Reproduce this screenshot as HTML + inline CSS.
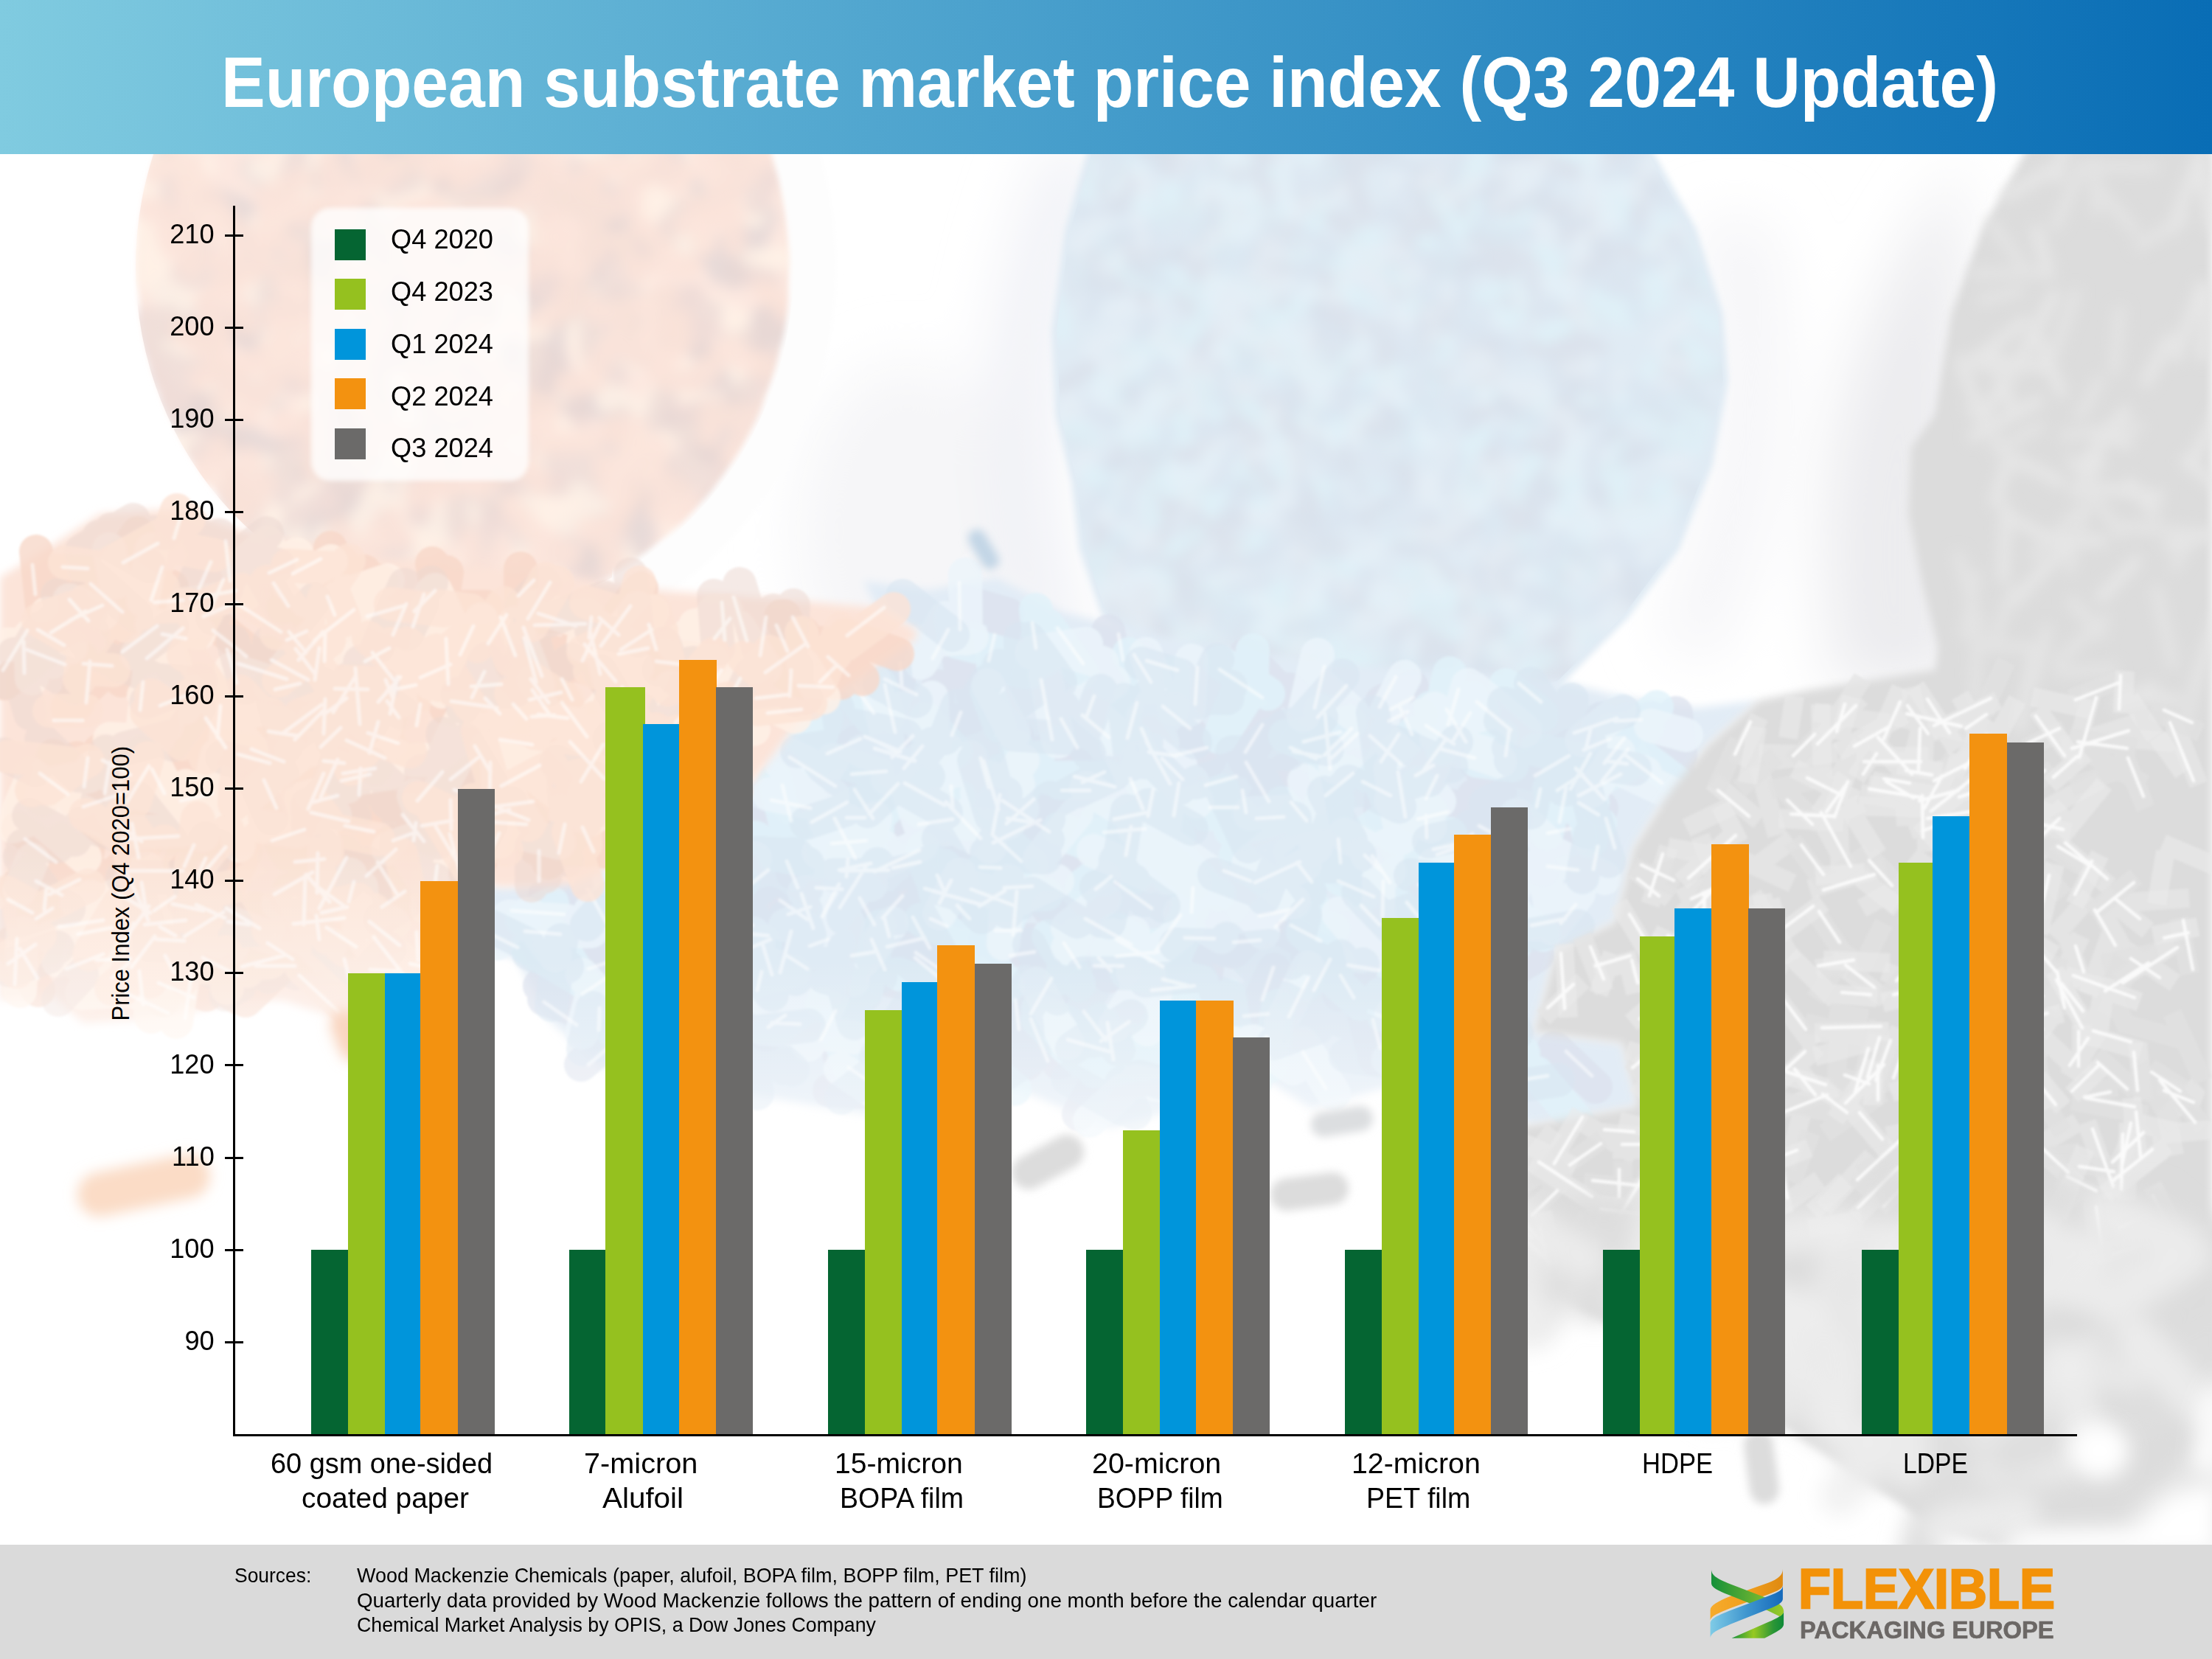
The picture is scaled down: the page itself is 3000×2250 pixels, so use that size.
<!DOCTYPE html>
<html lang="en"><head><meta charset="utf-8"><title>European substrate market price index (Q3 2024 Update)</title>
<style>
html,body{margin:0;padding:0;background:#fff}
body{width:3000px;height:2250px;overflow:hidden;position:relative;font-family:"Liberation Sans", sans-serif;}
#page{position:absolute;left:0;top:0;width:3000px;height:2250px;overflow:hidden;background:#fff}
.t{position:absolute;white-space:nowrap;display:block}
.b{position:absolute}
#hdr{position:absolute;left:0;top:0;width:3000px;height:208.5px;background:linear-gradient(90deg,#80cbe0 0%,#096db5 100%)}
#ftr{position:absolute;left:0;top:2095px;width:3000px;height:155px;background:#dadada}
</style></head><body><div id="page">

<svg width="3000" height="2250" viewBox="0 0 3000 2250" style="position:absolute;left:0;top:0">
<defs><filter id="b2" filterUnits="userSpaceOnUse" x="-100" y="0" width="3200" height="2250"><feGaussianBlur stdDeviation="1.6"/></filter><filter id="b4" filterUnits="userSpaceOnUse" x="-100" y="0" width="3200" height="2250"><feGaussianBlur stdDeviation="4"/></filter><filter id="b6" filterUnits="userSpaceOnUse" x="-100" y="0" width="3200" height="2250"><feGaussianBlur stdDeviation="6"/></filter><filter id="b9" filterUnits="userSpaceOnUse" x="-100" y="0" width="3200" height="2250"><feGaussianBlur stdDeviation="9"/></filter><filter id="b14" filterUnits="userSpaceOnUse" x="-100" y="0" width="3200" height="2250"><feGaussianBlur stdDeviation="14"/></filter><filter id="b40" filterUnits="userSpaceOnUse" x="-100" y="0" width="3200" height="2250"><feGaussianBlur stdDeviation="40"/></filter><clipPath id="cpRim"><path d="M830,200H1200V900H830Z"/></clipPath><clipPath id="cpOB"><ellipse cx="630" cy="362" rx="446" ry="471"/></clipPath><clipPath id="cpBB"><path d="M1483,200 L1451,313 L1433,449 L1438,562 L1460,652 L1470,742 L1501,833 L1600,900 L1750,950 L1900,962 L2030,950 L2113,923 L2203,833 L2271,742 L2316,629 L2337,516 L2330,426 L2294,313 L2231,200Z"/></clipPath><clipPath id="cpA"><rect x="0" y="200" width="3000" height="1900"/></clipPath><linearGradient id="fadeO" x1="0" y1="1150" x2="0" y2="1420" gradientUnits="userSpaceOnUse"><stop offset="0" stop-color="#fff" stop-opacity="0"/><stop offset="1" stop-color="#fff" stop-opacity=".55"/></linearGradient><linearGradient id="fadeB" x1="0" y1="1300" x2="0" y2="1530" gradientUnits="userSpaceOnUse"><stop offset="0" stop-color="#fff" stop-opacity="0"/><stop offset="1" stop-color="#fff" stop-opacity=".5"/></linearGradient></defs>
<rect width="3000" height="2250" fill="#fff"/>
<g clip-path="url(#cpA)">
<g filter="url(#b40)">
<ellipse cx="1230" cy="720" rx="150" ry="230" fill="#f6f6f8"/>
<path d="M1420,200 C1330,420 1300,650 1400,900 L1480,900 C1400,650 1420,420 1500,200Z" fill="#f0f1f6"/>
<path d="M2680,200 C2500,420 2440,650 2490,930 L2660,930 L2660,200Z" fill="#ececef"/>
<path d="M2250,860 C2330,700 2370,500 2300,300 L2400,300 C2440,520 2400,760 2320,900Z" fill="#f4f4f7"/>
</g>
<g filter="url(#b4)"><path d="M1483,200 L1451,313 L1433,449 L1438,562 L1460,652 L1470,742 L1501,833 L1600,900 L1750,950 L1900,962 L2030,950 L2113,923 L2203,833 L2271,742 L2316,629 L2337,516 L2330,426 L2294,313 L2231,200Z" fill="#e0ebf4" stroke="#e0ebf4" stroke-width="14" stroke-linejoin="round"/></g>
<g filter="url(#b9)" clip-path="url(#cpBB)">
<path d="M1731,303l-12,24M1813,370l-4,27M1512,626l23,16M1598,456l-36,8M1539,365l17,46M1476,350l30,17M1526,605l-6,51M1544,611l40,3M1758,566l-42,2M1877,688l-22,16M1903,298l52,2M1971,783l26,13M1938,427l-2,41M2223,236l22,15M1475,378l43,10M1658,281l5,46M1820,195l21,37M1522,228l-21,31M1679,571l30,18M1894,189l-37,27M2041,238l-22,24M1878,469l3,44M1693,574l4,38M1712,249l3,33M1640,869l1,26M1794,735l9,34M2212,184l-34,34M1798,360l2,44M1540,341l33,10M1733,471l-26,17M1776,674l7,33M1639,274l35,19M2016,761l5,40M1902,628l11,30M1501,340l-40,15M1679,704l-31,7M2056,729l15,33M1485,200l-11,35M1608,528l-21,27M1752,336l-45,9M1573,189l22,27M1477,499l-39,26M2102,869l16,29M1660,731l18,28M2108,638l-42,29M1563,520l26,9M1651,496l-16,41M1653,791l-24,47M1559,342l-41,4M1766,842l5,32M1526,479l-7,42M1520,745l-30,25M2125,859l-22,42M1620,383l-1,34M2256,319l-22,18M2028,466l-37,16M1791,474l38,6M2161,319l19,28M1712,901l-26,9M1932,421l33,26M1731,307l26,2M1515,352l25,9M2172,669l17,22M1440,588l36,12M1566,187l37,27M2262,363l44,25M1746,481l16,47M2046,671l5,34M2137,469l2,52M2120,547l-30,1M2162,296l-37,22M2012,356l33,7M1622,485l-5,42M1856,356l47,12M2036,318l18,39M2002,715l-34,7M1682,190l42,29M1995,648l-17,41M1620,684l6,46M2030,847l7,27M2202,339l26,3M1927,238l4,50M1832,184l-27,45M2052,873l-26,7M1991,872l-27,19M1700,392l45,24M2164,748l-34,2M2034,544l26,20M2128,543l46,13M1980,358l-32,8M1649,220l24,18M1765,712l2,49M2237,681l-43,11M1825,298l8,31M1529,532l2,29M2186,586l23,20M1942,829l22,46M1882,570l-4,40M2090,269l-41,18M1685,531l-12,45M1574,625l-21,21M2277,472l12,47M1832,502l-38,0M1988,811l28,3M1824,230l13,35M1553,830l27,33M1758,579l-13,41M1790,455l-10,33M1808,232l-6,28M2037,208l45,0M2252,498l25,8M1939,507l27,11M2291,554l4,37M1743,318l19,21M1637,307l-8,29M1726,655l-39,5M1768,739l49,3M1997,356l-26,11M2144,764l37,26M2089,552l-36,0M1617,281l-44,12M1984,727l-44,4M2172,354l-44,12M1719,543l12,27M1865,572l30,16M2205,782l8,32M1770,273l42,27M2073,353l5,40M2104,867l-10,48M2158,282l-0,39M1909,925l32,22M2286,544l27,11M1572,746l22,41M1941,709l-42,29M1849,565l48,5M1749,358l-39,14M1759,622l-8,28M1512,331l9,40M1827,620l17,24M2070,188l28,32M1999,891l27,21M2030,493l-18,29M2353,499l-49,9M1557,202l32,25M1559,653l16,50M1703,879l43,15M1583,701l-11,36M1613,856l-34,1M2143,856l-41,29M2039,254l-10,24M1834,242l17,50M1938,234l39,29M2120,469l-3,39M2120,281l21,18M1537,253l-29,29M1595,341l41,26M1934,306l-34,29M1586,806l-36,2M1715,301l26,34M1511,820l47,19M1708,451l-28,28M1600,396l24,34M1960,414l-7,27M1740,550l18,30M2127,422l40,9M2094,277l32,18M1773,574l30,40M2017,349l34,32M1628,884l-25,37M1886,562l-39,32M1632,664l-42,22M2121,632l-20,38M1947,842l-12,50M1786,419l36,18M1758,826l-12,31M1831,803l25,25M1766,686l-14,33M2245,555l22,48M1689,588l13,51M2041,401l36,20M2134,455l36,17M1563,752l29,17M1762,881l-3,33M1741,902l22,24M2234,250l-15,46M2257,314l38,24M1637,715l-26,6M2041,748l-0,50M2010,842l18,47M1717,449l-11,49M1643,535l-28,25M1609,788l38,30M1779,904l12,42M2132,915l-44,11M1693,224l30,18M2165,554l-24,15M1905,374l12,33M1928,752l35,30M1490,379l-31,7M1879,561l-46,6M1583,804l34,19M1885,904l18,46M2221,612l-33,21M2079,685l-13,35M1635,722l-30,32M1989,244l-3,44M2037,641l-19,28M2081,604l27,6M1716,335l16,44M2216,796l-17,28M2019,331l25,12M1782,680l-7,31M1779,553l-40,8M1491,718l3,32M2022,810l-41,13M1696,431l22,16M2102,214l31,19M1671,903l8,26M1482,765l25,15M1930,833l-36,25M2032,511l-32,4M1880,444l-52,5M1533,359l25,20M2002,320l37,8M1684,740l-26,1M1490,256l31,22M1722,893l22,24M1720,560l42,28M2110,821l8,32M1995,808l3,37M2114,564l-2,34M2046,551l15,23M1928,780l-22,26M1532,531l-14,30M1945,237l-14,22M1654,451l-25,20M2123,760l-11,49M1811,418l33,31M2080,471l28,6M1958,257l-13,46M1641,608l-42,10M2023,612l5,41M1899,916l1,46M1648,352l-11,25M1665,323l-48,20M1877,361l16,32M2035,544l-35,20M2277,661l38,20M2151,520l26,30" stroke="#d9dde8" stroke-opacity="0.6" stroke-width="24" stroke-linecap="round" fill="none"/><path d="M1548,270l27,39M1847,887l14,29M1576,363l29,26M1791,481l2,36M2057,385l12,27M1907,779l16,27M2287,467l24,20M2096,542l-19,20M1562,285l45,23M1984,627l4,51M1904,885l10,48M2263,693l-33,22M1895,597l37,2M2260,300l-27,34M1817,570l-48,2M1622,862l32,9M1659,208l31,9M2011,213l-31,40M1689,333l-42,9M1466,583l-39,3M2301,424l25,20M1581,451l32,9M1633,783l46,13M1777,230l34,2M2125,731l1,33M2258,659l-32,35M1925,817l44,2M2199,605l-17,39M1819,388l41,31M2186,410l43,7M2007,298l-35,15M1554,560l-19,45M1436,403l6,51M2156,746l-0,31M1783,545l-22,16M1646,519l-52,2M2090,340l23,22M1631,518l19,46M1753,234l-26,0M1827,857l-35,0M1804,504l-37,7M1503,655l15,36M1892,810l-31,3M1522,721l-28,41M1980,656l31,22M1549,461l46,24M1862,517l-17,45M1514,523l-1,26M1710,803l-35,27M1969,461l-28,25M1973,337l-15,36M1613,317l-27,8M1598,880l-27,15M2125,442l-32,13M1847,603l26,1M1930,329l28,3M2305,577l-7,29M2241,558l18,46M1600,520l-31,27M1717,727l-26,14M1832,336l-12,26M2069,563l-15,35M2079,625l-22,44M2237,363l14,43M1675,346l-32,40M1947,268l21,30M1864,322l-27,6M2136,682l-29,24M1660,473l26,26M1941,839l32,21M2057,864l-38,30M1958,562l-43,13M1784,568l26,30M1627,276l3,33M1857,761l-34,9M2006,817l33,8M2060,300l-28,21M1717,298l-50,18M1750,241l-8,47M1851,639l25,17M2168,403l-9,34M1590,831l13,29M1663,279l2,30M2265,549l-46,13M2298,363l-48,10M1644,227l-25,32M1558,667l7,39M1810,880l32,26M2083,771l25,15M1644,820l28,3M1676,819l-16,35M1522,500l38,17M1803,904l-26,22M1664,505l-14,32M1493,516l-0,26M1525,645l-37,8M2199,642l-9,42M2327,498l-29,7M1708,429l33,37M2146,827l0,38M1915,793l7,35M1747,828l-45,25M2017,590l-26,17M1612,562l-5,32M2025,706l-7,28M1956,908l8,42M1929,780l-7,38M1586,455l-23,27M1681,547l39,29M1937,394l-27,24M1698,492l29,8M2207,533l-17,39M1793,640l10,45M1764,212l24,36M1831,765l-42,0M1875,701l35,26M1649,229l16,33M2078,285l-25,33M1737,797l-7,46M2176,273l22,28M1692,263l29,43M2176,413l36,24M1889,504l18,33M1935,500l17,40M1715,456l-24,9M1511,208l45,16M1656,381l-39,16M1780,399l-40,30M2067,416l-34,31M2056,859l-30,25M2101,892l-30,17M2198,679l37,26M1745,455l21,39M2001,278l-4,31M1683,642l-34,37M1641,888l-34,11M2031,427l-31,1M1884,893l-39,34M2169,398l20,33M1651,791l-15,22M1484,761l13,28M1858,550l-37,27M1644,623l32,0M2199,247l-20,45M1757,468l-12,49M1537,772l32,1M2194,294l8,26M1459,352l6,30M1474,640l43,27M1892,698l-17,29M1841,349l26,8M2051,389l-42,13M2064,733l18,27M1631,542l-35,31M1440,584l41,13M1786,831l44,11M1691,393l30,10M1864,600l36,14M1783,348l29,12M2305,559l-33,25M2171,243l14,24M1544,577l41,24M2241,494l-4,32M1733,433l-44,18M1798,201l-25,13M1527,470l22,33M2076,768l34,4M1609,647l-43,2M1978,927l-27,23M1782,558l24,43M1927,574l-25,43M2158,710l-26,13M2117,802l-22,44M2133,639l-1,42M1626,663l17,30M1590,663l28,10M2149,541l27,9M1735,602l6,46M1729,862l47,15M2139,614l-31,38M2292,681l-32,8M2116,202l28,7M1897,526l12,40M2294,581l-33,28M2106,379l18,19M2024,650l-22,40M1581,261l21,30M1779,305l-24,43M1701,479l-23,21M1930,556l11,37M1886,370l42,25M1520,537l5,51M1785,833l-30,32M1930,769l35,33M1531,373l48,19M1580,627l5,36M1625,251l-39,13M2156,185l3,44M2294,333l15,50M1729,799l-25,36M1795,274l-13,31M2181,255l21,21M1650,798l-23,16M1623,724l-38,27M1585,636l40,14M1641,401l-19,40M1512,223l-1,29M1974,527l46,10M2196,685l19,35M1592,597l-26,15M1793,799l-21,28M1699,654l11,31M1766,830l-44,23M2288,535l6,46M1891,508l-41,16M1840,469l-31,40M2064,305l-52,7M1479,217l-1,50M1582,779l-4,31M1497,330l21,33M2273,546l34,24M1779,835l-33,25M1742,900l-6,36" stroke="#e0f3fa" stroke-opacity="0.6" stroke-width="24" stroke-linecap="round" fill="none"/><path d="M1943,650l0,40M2071,366l-9,39M2141,629l-31,13M1968,617l7,48M1753,649l1,31M1665,186l9,34M1486,338l16,40M1846,427l41,20M1866,711l-2,31M1737,221l33,3M1595,639l22,42M2093,551l40,25M1456,339l-0,46M1643,508l46,20M1731,925l-10,29M1840,580l4,51M1610,523l9,35M1791,508l12,25M1670,274l12,49M1800,588l-2,39M1847,433l-8,50M2195,721l-15,33M2212,697l20,25M1463,331l17,19M1945,384l-34,4M1977,685l29,7M1509,257l-23,23M1551,798l-1,50M2262,348l46,2M1790,499l-42,0M1657,387l-1,31M1575,503l20,25M1676,751l0,41M1964,208l-32,40M1921,523l-21,19M1844,360l37,36M1702,813l24,21M1932,755l17,43M2159,526l38,6M2171,288l0,26M2184,771l-11,32M2102,385l26,5M2129,411l21,25M1675,882l22,15M1532,639l-12,29M2166,805l10,34M2007,483l35,40M1477,618l-19,18M1540,635l-7,42M2008,422l26,25M2150,501l34,7M1500,456l-21,21M1618,492l-14,30M1680,597l-41,20M1978,912l24,32M2018,927l-12,42M1746,267l14,28M2059,540l29,6M1774,400l43,2M1481,684l45,28M1630,210l23,40M2081,384l-6,37M2044,756l41,9M2140,677l21,28M1435,378l28,35M1932,359l-25,12M1861,795l33,21M1879,939l-5,28M1975,711l-9,25M1902,840l6,40M1745,672l-23,32M1960,447l38,35M1546,491l-47,2M1925,693l-46,19M1789,192l9,36M1837,610l39,34M2051,820l-29,22M1882,802l-28,21M1727,556l-10,26M1564,417l10,26M1895,605l-23,11M1868,606l-24,42M2154,617l-32,9M2017,787l17,29M1782,813l-32,25M1995,496l17,44M2136,620l16,21M2207,751l29,1M1665,633l-47,16M1654,877l1,49M1987,789l37,20M1499,292l-37,36M1976,518l-18,34M2259,492l27,2M1707,371l33,13M2024,794l-40,9M1557,772l-37,3M1532,416l-25,9M1849,797l-33,6M1523,501l-21,20M1669,627l-26,1M1561,730l-41,27M2145,835l-12,49M1657,253l-11,28M2211,734l-36,19M2152,841l39,7M2242,211l-14,29M1920,527l-33,5M1721,322l51,10M1971,391l-31,34M1687,780l24,13M1748,450l-22,36M1772,521l6,45M1652,865l24,32M1883,510l-20,49M2042,762l34,10M1661,484l-20,24M1566,458l43,29M1778,454l24,43M1775,241l45,18M1749,307l-17,22M1703,697l38,14M2273,312l19,43M2054,634l-28,6M1704,265l-36,6M1899,340l-48,7M1601,314l-25,20M1647,365l-2,38M1491,555l-39,2M1526,557l6,30M2038,673l-42,9M1588,812l19,30M1509,215l6,30M2241,310l22,30M2179,228l-22,36M1641,750l-17,24M1638,823l-14,27M1539,787l31,6M2000,838l-10,50M2172,272l18,42M2091,220l-9,27M2182,281l-43,10M2243,699l-36,20M1858,372l-39,5M1762,468l41,1M2087,297l10,25M1745,606l8,26M1546,732l29,29M1517,340l-40,10M1666,395l30,2M1627,212l37,6M1997,246l-41,28M2285,628l-27,1M2017,637l23,39M1940,458l-3,33M1449,541l-22,41M2278,666l25,21M2177,312l-28,8M1534,452l-44,11M1962,721l-18,20M1926,655l-8,52M1641,245l-15,21M1493,215l-1,37M1654,445l38,5M1954,723l-49,3M1810,609l-21,31M1770,247l-33,2M1508,784l-25,44M2225,691l-33,9M2174,816l27,11M1781,460l-19,35M1725,610l-31,8M1753,727l22,29M1737,344l-30,2M1895,245l16,41M1932,575l7,26M1652,469l8,39M2004,729l46,22M1615,886l-5,26M1548,299l8,46M1750,906l-13,24M1929,213l36,37M2020,757l44,20M2193,792l-10,36M1804,782l-35,27M2161,503l42,12M2030,871l8,33M2064,224l-26,16M2094,697l42,19M2043,240l-14,35M2153,690l19,48M1642,783l48,6M2157,496l-45,9M2210,690l-9,35M1734,726l47,11M1646,322l-27,18M2161,755l-23,20M1463,355l49,2M1941,660l-7,33M1761,858l1,28M2146,330l-11,49M2107,839l-25,13M1668,419l23,31M2165,226l-12,31M2063,378l20,28M2147,836l-46,1M2163,193l-4,34M2286,434l-35,31M2130,597l45,16M1603,514l-25,37M1810,746l49,15M2177,249l45,13M1724,398l-50,11M1740,739l43,20M1652,200l34,11M2243,521l30,6M1489,531l17,26M1919,357l0,42M1585,807l-45,8M1838,558l-4,44M2076,230l-17,26M1760,720l14,36M2023,734l-31,3M1613,189l-5,45M1900,425l10,37M1982,712l32,35M2238,337l24,36M1547,230l4,34M1777,578l27,38M1832,343l37,14M1857,844l-36,7M1802,270l-27,3M2260,687l-4,44M1520,804l16,28M1912,797l-30,43M1741,836l-27,18M1740,451l-40,22M2064,521l38,11M1527,791l-9,25M1601,869l-7,46M2166,507l-10,31M1570,526l-22,48M1715,296l-50,15" stroke="#e8f0f7" stroke-opacity="0.6" stroke-width="24" stroke-linecap="round" fill="none"/><path d="M1763,231l-1,26M2296,666l-7,26M1478,354l-5,29M2108,418l-29,2M1840,701l44,8M1696,482l-13,22M1572,494l19,22M2212,395l9,34M1906,658l-14,23M1960,553l36,14M2174,810l-22,23M1910,610l-37,35M2175,504l1,48M2209,524l43,8M2229,310l-44,16M1518,208l-22,47M2211,367l-23,22M2028,713l-11,27M1497,385l-23,38M2121,523l46,4M1907,743l45,7M1562,308l40,31M1919,524l23,40M2107,495l11,38M1563,507l-35,32M1538,650l-17,47M1824,703l-29,5M1737,739l-46,25M1911,520l24,39M1450,352l4,52M1855,777l-12,38M1501,205l1,39M1828,221l-35,36M1808,800l14,48M2119,296l29,5M1735,316l23,14M2208,228l-33,9M1815,532l42,3M2075,804l43,30M2235,528l36,37M2084,757l26,21M1977,621l-12,38M1636,884l40,6M1566,333l-13,37M1858,592l14,35M1801,841l-51,13M1937,696l-43,17M1964,544l28,36M1808,675l13,31M2211,552l49,2M1648,761l32,1M1655,501l6,42M1907,257l-9,39M1913,676l-34,20M2100,652l-14,29M1924,391l22,20M1907,564l-25,8M2015,450l-32,15M1829,612l-29,17M1787,602l12,39M1903,585l-40,24M1951,885l4,25M1978,942l-14,26M2103,243l-18,41M2007,437l-45,7M1949,929l26,25M1697,834l-36,25M1670,657l30,9M1675,606l-22,47M1949,217l-31,8M1669,825l15,26M1938,349l45,9M1888,448l27,33M1945,473l-32,11M1845,425l23,22M1918,930l-27,43M2193,577l-31,34M1684,659l-18,41M2238,189l-31,28M1921,939l-2,40M2029,594l34,11M2007,898l27,14M1917,277l-42,14M1743,529l9,25M1932,477l4,35M1992,534l-40,1M1646,283l-21,26M1944,353l0,40M2078,750l-37,22M2020,288l-21,32M2070,316l-48,3M2033,250l-18,19M1511,729l24,35M2179,390l28,5M1540,364l39,18M1949,537l-5,39M1928,902l14,29M2001,911l-2,38M1726,726l52,4M1606,807l-19,31M1634,810l-23,26M1588,349l-41,15M1948,929l20,42M2195,799l41,11M2149,561l43,4M1922,452l-23,30M2030,455l27,23M2068,368l15,31M2250,353l-33,13M1553,755l29,9M1515,280l-52,7M1787,417l13,50M1670,580l-44,2M1843,618l4,43M1910,650l-32,1M1684,832l-31,15M2150,369l41,25M1882,683l-15,37M1716,788l-44,11M1550,624l-44,9M1825,554l-35,13M1806,214l-22,34M2168,331l24,43M1616,222l-4,35M2157,625l7,51M1596,304l29,19M1745,700l24,7M1532,318l-46,25M2007,716l-29,19M1955,318l28,43M2028,915l-12,46M1648,827l23,20M1853,204l45,16M1718,306l30,18M1696,338l-38,10M1676,856l3,42M1790,703l14,31M1691,350l-36,11M2002,779l16,25M2028,831l8,26M1974,206l-5,38M1501,663l-27,32M1478,555l35,15M2268,328l31,37M2113,739l44,24M1536,197l32,26M1852,629l-43,11M1804,699l-20,25M2037,548l45,22M1503,381l-32,1M1641,883l20,15M1923,348l33,22M2170,743l44,4M1755,311l45,25M1803,453l28,6M1586,586l-18,36M1650,766l-42,16M2088,668l-2,50M2251,772l-29,14M1641,208l5,28M1877,555l33,26M2035,684l-15,21M2240,254l20,17M2064,207l-31,5M2009,357l-27,15M1980,376l6,40M1564,434l-21,21M1902,852l-15,40M1964,899l-8,34M1822,612l49,15M1866,911l-11,32M1806,339l-36,28M1735,744l-39,20M2102,802l30,31M2247,606l-45,13M1767,654l0,27M2011,419l3,36M1898,894l-5,29M2122,728l-20,26M2276,533l26,7M1817,748l-32,0M1742,514l24,35M1826,825l-31,28M1793,452l8,34M2194,734l19,38" stroke="#d8e2ee" stroke-opacity="0.5" stroke-width="24" stroke-linecap="round" fill="none"/>
</g>
<g filter="url(#b6)"><path d="M1171,788 L1260,800 L1352,783 L1440,830 L1600,870 L1800,900 L2113,923 L2200,945 L2300,960 L2385,950 L2316,1010 L2260,1080 L2215,1150 L2190,1250 L2110,1290 L2080,1400 L2200,1415 L2220,1500 L2080,1525 L1904,1468 L1778,1504 L1723,1468 L1506,1531 L1380,1477 L1181,1513 L1027,1486 L900,1470 L814,1447 L746,1384 L700,1300 L620,1280 L610,1185 L678,1203 L772,1200 L900,1150 L1021,1060 L1085,976 L1150,930 L1241,868 L1244,855 L1189,824Z" fill="#e2ecf6"/></g>
<g filter="url(#b2)">
<path d="M868,1297l53,4M957,1093l84,34M1199,1328l68,13M1549,1443l65,3M1795,1148l-75,19M1318,972l-78,24M1451,1398l64,9M738,1355l54,18M786,1326l69,34M1067,1139l8,45M1360,1418l-23,80M779,1368l54,22M1093,1341l-43,42M900,1247l16,74M1741,1045l-30,47M1838,1261l-22,88M1906,954l18,41M1782,964l52,6M983,1190l-12,54M2204,1000l-71,30M1406,1369l30,73M1926,971l-46,24M943,1286l37,74M1254,1195l50,41M1411,1283l-52,8M1077,1377l-38,27M1460,1037l-62,49M851,1285l-61,20M1175,1208l25,44M1733,1228l-60,63M1876,1031l-4,71M1162,1203l-29,37M1319,942l61,58M1043,1225l54,38M1454,1075l-33,75M1646,1020l-60,14M1422,1108l-43,41M1206,1232l12,45M1387,1372l-53,73M1138,1431l80,15M827,1357l-1,51M2108,1421l56,53M2001,1118l-43,28M745,1275l54,14M1689,888l47,49M1712,1049l45,16M1999,1079l-8,69M849,1392l-61,52M1911,994l-35,53M780,1282l-48,55M1490,1462l-27,49M1163,1005l59,24M2273,967l6,59M1719,1389l-45,52M1773,1298l79,14M1652,1356l53,23M2021,1148l-22,62M1259,1262l-64,16M2065,1296l-45,10M1825,1258l84,26M842,1303l-68,46M919,1145l-30,68M1436,1419l74,21M1766,1201l-48,38M938,1281l-79,23M1258,997l-47,49M1491,1282l33,34M1728,1422l-72,10M1979,1006l55,69M1272,1091l55,58M1969,1093l-53,13M1435,1008l-66,39M1219,925l-21,68M873,1320l-51,74M2024,1418l-14,72M1422,1232l35,44M1277,1341l-39,61M1419,1386l-15,44M734,1339l69,48M879,1413l-27,36M945,1276l-0,92M1432,1180l65,11M1460,1278l-56,57M2141,1134l-49,10M2172,975l-14,56M1296,1167l17,66M1530,1060l-47,27M835,1344l-18,64M1950,1167l22,44M1418,1118l-72,35M1583,1376l44,19M1503,856l9,49M1123,1343l-79,7M2206,977l-53,67M1476,876l28,50M1304,1114l-69,11M862,1326l-47,36M1140,1067l41,63M1247,1289l35,73M1915,931l-41,21M739,1214l49,69M966,1268l52,45M1688,1175l62,15M1336,1275l64,0M1144,1154l-4,45M1257,1294l60,43M1813,1180l61,26M1765,1205l-50,50M1994,1022l84,28M1735,1259l61,32M1568,1152l52,45M1820,1319l54,9M1238,1213l-42,46M1156,1010l52,25M1847,1159l35,52M931,1187l-59,70M1136,1279l-44,17M1406,1021l-59,68M1125,1479l61,3M1916,1298l-46,45M1840,1038l-52,43M1940,1292l29,36M918,1244l59,42M1646,1252l-13,87M1308,816l59,17M1452,1045l69,17M757,1214l68,51M2085,1295l-47,30M2014,1098l75,41M2239,974l41,81M1488,1392l-76,15M1543,1029l64,8M809,1269l80,35M901,1326l-42,57M2034,1372l3,75M1187,999l42,21M1055,1298l44,29M892,1429l86,18M1064,1287l2,65M1929,1385l12,64M1940,1139l49,77M1722,978l-33,54M1133,1317l-69,45M1510,1264l-6,60M903,1438l57,8M1817,1347l53,12M2064,1144l29,37M1052,1263l-53,22M1548,890l10,57M1849,1373l16,63M1345,1383l31,46M1362,852l-13,57M802,1198l34,61M1341,1369l51,74M1831,981l-42,40M1069,1316l22,50M962,1238l67,12M1749,935l63,58M1429,1347l-33,36M1593,963l47,68M2132,1010l-64,38M1178,1462l82,1M2125,1046l47,50M1564,1019l42,54M1291,838l13,77M1885,1279l59,25M1273,931l-7,89M815,1249l49,13M895,1269l-54,37M1728,1315l-38,81" stroke="#dce2ee" stroke-opacity="0.75" stroke-width="46" stroke-linecap="round" fill="none"/><path d="M1922,1063l-31,72M1250,1072l-84,15M1796,1318l49,44M900,1263l-11,63M1281,1174l25,38M1592,912l-1,50M1541,1043l24,57M1185,1161l-55,11M1347,904l49,7M1990,993l46,6M1583,1280l-82,9M2143,1083l14,57M1807,1128l5,53M1699,882l-2,59M1059,981l73,54M1877,1110l-52,41M881,1329l12,51M1115,1361l64,30M1738,1089l31,37M1460,1407l89,5M1940,1099l1,45M1421,849l46,63M1574,1093l-85,17M1301,1082l-54,19M2019,1213l74,55M1407,1383l58,55M916,1179l41,25M1945,1268l-33,43M1979,1232l78,47M1831,979l-81,21M1306,1116l60,6M1379,1012l9,61M1036,1276l-29,62M1569,1316l61,16M1916,1285l-26,41M1897,1226l42,50M1284,1336l30,45M969,1136l56,0M1133,1031l58,18M880,1316l75,29M2012,1173l5,60M1558,1442l-74,11M1592,1153l44,50M1454,1135l62,30M1913,1304l-37,73M987,1290l12,71M1493,1384l10,59M1532,946l-15,55M2200,1005l73,55M1997,947l-41,68M1228,1428l29,39M1572,1066l-9,48M1365,1137l-43,55M2205,998l-53,64M1997,1390l9,55M2114,1047l-16,83M1635,1104l48,0M2084,1017l56,11M1460,1266l-22,61M1648,1439l54,30M1508,1170l-40,31M2160,1089l-61,8M1234,1064l-54,56M1050,1159l58,11M1528,1319l89,21M1051,1057l16,68M958,1169l48,28M1422,1270l41,64M1966,913l-14,64M1613,1197l-3,46M1116,1146l-49,3M2205,1039l-78,39M1436,1124l53,19M1405,827l9,68M1281,1059l3,45M1419,1213l-75,3M715,1286l78,47M1757,1152l65,42M1548,1434l60,13M1698,934l-42,65M1917,1171l-70,43M1617,1234l-52,76M1999,1415l67,13M1256,975l39,44M1943,1239l26,63M1160,1088l-65,36M1219,1321l60,22M1437,1408l50,33M1136,1401l21,60M1667,1350l12,69M1655,898l65,43M1515,1261l73,43M1531,887l29,46M1967,1131l-11,64M1904,1252l21,65M1964,1354l-2,88M1767,1264l50,44M1300,1422l-48,34M823,1215l88,22M2003,1032l48,6M1658,1073l-71,26M1483,1062l-46,0M749,1225l-40,22M2149,1039l-48,30M752,1268l28,46M1190,1125l-84,14M1917,994l-62,58M1120,972l-15,60M1717,1435l-47,18M1408,1368l75,38M1601,1321l43,54M1342,1120l58,53M1363,1199l-43,26M1539,1004l42,75M1682,931l-28,69M2084,1455l57,68M883,1244l35,29M1808,1260l-37,74M1299,871l73,18M1322,1434l54,43M1330,1289l38,48M1194,1256l-19,86M1907,1317l79,27M2042,929l48,41M1556,1123l-28,38M1260,1006l-10,89M1585,1190l67,23M1950,1294l29,66M1940,960l71,3M1749,1155l31,72M1257,1178l23,52M1078,1317l-59,16M1346,1356l-1,65M1814,1087l-5,62M2247,959l-66,58M1589,1344l-30,81M1676,1160l66,53M1252,1150l22,79M1827,1047l-38,47M1503,1054l-85,1M840,1351l-9,47M1194,929l11,43M1038,1281l-22,57M1790,964l8,85M1928,1263l13,68M1331,1226l-8,57M1816,1124l25,74M940,1403l9,82M1408,1027l-51,20M1728,1112l-59,14M1566,1116l-81,7M1149,930l33,46M1249,1247l42,20M1136,1118l49,1M1612,1257l-32,69M1874,1067l31,73M1743,998l60,26M1378,1223l-20,51M1872,1348l43,17M2234,986l-50,3M1733,1364l-11,82M1338,937l18,47M2128,1092l42,25M1598,1134l-59,55" stroke="#e1f3fa" stroke-opacity="0.8" stroke-width="46" stroke-linecap="round" fill="none"/><path d="M2005,1251l87,3M1852,1002l-41,39M1905,918l-27,51M1815,1239l48,57M1460,1103l-50,61M1774,1312l-37,76M2031,963l-53,15M1318,864l-68,6M1770,1173l-69,32M789,1322l34,38M1550,973l23,51M1999,934l69,57M1616,896l-4,67M1102,1401l56,6M975,1095l25,53M1264,946l3,78M942,1338l19,46M1638,1193l24,39M1418,916l17,90M1368,1116l-59,15M1282,838l-33,61M2057,1105l39,36M714,1240l48,19M1755,1223l-51,10M802,1263l-58,1M1256,1079l68,59M2064,1174l-15,45M1091,1210l66,4M1515,1011l24,54M1387,1031l-46,65M1584,1144l74,50M2197,963l-52,41M2113,1160l63,31M1870,1190l-1,56M1560,957l17,51M1938,1381l-55,56M1316,1027l-43,30M1988,1323l-34,77M1434,1195l-51,24M1537,1265l-39,26M1536,1319l21,46M1223,960l61,56M1857,983l58,52M1133,1315l-41,58M1973,1357l41,44M1748,1100l-53,3M2239,984l48,13M1885,1043l12,71M1151,1113l-28,87M1699,1411l55,38M2141,1212l-37,47M1302,1186l-28,53M1567,1348l-11,48M2195,1021l-36,52M1567,1021l56,66M1837,1252l10,45M801,1235l67,29M1900,1137l-46,23M2093,1172l10,58M1150,1251l-14,71M1600,1238l57,33M1676,1203l37,62M1034,1395l64,4M1049,1366l56,1M1311,1201l47,12M1340,929l35,66M1601,1038l-57,36M1047,1012l61,30M1787,888l-19,82M1991,929l-19,67M1462,1251l73,41M1945,1037l-25,52M981,1265l48,12M1006,1325l0,61M694,1252l85,7M805,1341l-16,60M1210,1252l-40,52M1130,1172l51,28M1948,1003l65,18M1473,873l-74,12M1129,1352l-33,65M1297,1043l84,21M1464,952l58,49M1523,1478l-45,42M1368,1195l-7,85M1483,1154l78,34M1249,1029l-45,27M1118,1111l33,65M932,1263l-28,73M2093,1166l57,8M1988,1158l-43,14M1587,1390l81,23M1022,1266l23,75M1823,1132l58,32M1554,887l29,85M1634,1238l-63,50M995,1308l85,4M1539,1349l-27,42M1538,1123l44,68M852,1322l66,8M699,1244l-26,36M1510,925l-37,26M826,1193l81,36M1876,1257l47,48M961,1381l27,85M1060,1036l70,43M1047,1308l-12,49M1850,1150l34,32M1122,1301l35,28M1498,1219l-50,39M690,1243l79,6M1358,1072l-74,53M1887,1376l27,58M1791,929l44,39M1747,1127l-54,44M1250,1145l-73,34M1886,1086l54,35M2024,1386l6,87M1199,1149l-49,48M1929,970l57,38M1169,1019l84,26M1996,1277l-43,21M1569,1043l48,17M1946,961l36,59M1921,1365l26,40M2185,1033l46,15M1247,1437l-52,76M1769,1059l16,90M1187,1110l-12,53M2201,1045l81,38M1043,1077l62,13M1554,1298l11,64M1473,1068l72,44M1983,1015l52,18M632,1203l22,75M1438,880l57,19M1351,1067l36,30M1541,1466l71,13M1305,1392l-43,53M1220,1038l28,82M1405,1334l43,81M1140,1450l71,48M1591,1041l-12,82M1111,1239l-46,16M1193,1149l-83,7M2024,1174l32,64M988,1430l-29,38M1510,1268l-62,18M1129,1031l-29,43M712,1241l41,55M1187,925l17,78M1922,1052l30,35M1309,779l1,87M1024,1164l-49,1M1325,1075l18,74M1146,1208l-32,57M1131,1191l-27,51M1618,1225l66,19M1614,1201l37,24M1766,1415l43,68M1090,1273l-21,83" stroke="#ecf5fb" stroke-opacity="0.8" stroke-width="46" stroke-linecap="round" fill="none"/><path d="M1267,1173l-73,16M1545,1460l85,25M1722,1283l-61,6M1227,1293l52,35M1403,1430l-40,27M1983,1213l-9,85M1304,1357l-76,15M857,1188l-61,66M1319,1188l47,2M2040,954l64,19M1463,1353l54,71M1355,903l64,28M1208,1436l-67,53M1713,1086l26,62M1300,1212l31,32M1011,1399l52,50M1513,1167l38,54M1399,1212l62,38M1271,1372l53,18M1511,1050l-49,23M1217,1065l66,37M1890,1006l78,33M1118,1325l52,15M1156,1007l-75,12M1387,1344l7,60M868,1272l87,27M1424,1082l-63,56M1792,973l-50,12M1534,1378l-51,34M1751,1007l49,9M1736,1294l53,7M792,1415l78,5M1299,957l-17,44M1338,1157l79,6M1944,1214l35,61M1627,1323l-74,7M882,1372l-41,26M1448,1463l74,41M1808,1322l25,41M1829,1060l69,34M1349,1091l72,48M1502,1048l-76,42M2121,982l-75,32M1243,1378l63,50M1338,1020l13,51M1396,1281l38,73M1671,1020l77,2M1410,1308l-27,46M1138,1316l20,72M1242,1230l33,60M1279,1158l-39,25M925,1159l70,31M1997,1128l-59,13M2055,986l-6,45M1117,1307l56,43M1770,1241l-19,65M1364,1076l-12,60M1021,1242l14,83M2032,1346l25,55M1540,1320l-72,0M1223,1057l-46,43M2157,1010l-81,2M1529,1100l-13,78M1746,1168l31,42M1242,1422l76,38M2076,927l39,59M2085,1058l-9,44M1338,924l-35,66M1183,1236l-1,45M973,1158l54,0M1063,1170l30,65M1558,943l-5,91M717,1293l52,18M1994,1121l55,30M1925,1261l20,46M2160,1099l22,69M1954,1039l-39,22M1170,1034l89,19M1016,1260l-26,73M2154,1012l-34,59M1020,1430l7,53M1196,1214l-38,63M1403,1324l80,18M1078,1239l1,89M1441,958l36,64M1816,1383l63,26M2012,1307l8,91M853,1408l47,51M1756,1110l4,78M1524,949l10,88M1563,1032l37,37M1721,997l-63,62M1035,1157l60,14M1224,808l68,53M665,1256l51,25M951,1168l81,32M1862,966l10,70M1822,1068l-25,71M852,1174l32,38M998,1255l48,5M1825,1432l88,13M1737,1172l90,4M1503,1194l-10,55M1233,1362l-45,71M1958,1272l-19,58M2035,977l43,11M1595,1281l65,2M1395,866l43,59M1011,1395l64,56M1077,1207l21,62M1025,1157l56,3M1493,937l-17,46M1233,1244l-54,4M1557,955l64,52M1520,1187l-16,64M1659,1075l34,73M1212,890l4,50M1931,1417l34,45M1922,1343l18,49M1193,927l49,24M1842,1211l45,47M804,1367l-13,56M1739,1353l43,22M1097,1391l-76,9M1060,1181l-68,56M1511,1181l67,48M1975,1006l-37,52M1222,1050l-87,6M1191,1279l-46,7M1932,1362l13,64M2140,1256l-75,14M1966,1311l24,70M1251,1198l87,26M1690,1021l42,71M2113,1465l-69,10M1764,1136l80,24M1190,1172l-46,73M1802,1325l85,30M998,1126l-3,61M1786,1394l-59,21M1537,1194l-50,9M1976,1341l64,26M1342,1187l25,50M1183,1004l-70,32M1956,1227l-18,66M1651,895l-26,58M1647,1186l56,21M1982,1196l53,65M1848,1308l-21,40M1776,1006l-56,11M1913,1187l54,7M1981,1309l-39,48M1733,1169l-19,49M2080,1059l-65,31M1985,1284l20,65M2150,1067l18,70M1321,1031l23,75M1669,931l-77,25M1818,1297l-32,60M1346,1144l21,64M2157,1132l-11,58M2132,949l-6,60M1889,1065l-87,12M1116,1040l48,37M2005,1223l-46,14M1548,900l53,16M1230,1302l44,36M761,1275l-13,88M1384,866l2,68M1145,1099l-51,17M1005,1301l42,48M1171,1272l23,53M1403,937l-53,36M1264,1009l-40,48M1326,1000l17,79M1821,916l-49,55M2063,1012l61,59M1333,1364l33,33M1649,1345l80,30M1557,1092l59,32M1521,1469l18,41M1216,1186l-86,1M1687,1043l-65,18M2202,965l-78,26M1373,996l72,5M1075,1158l19,47M1160,984l68,14M1310,1197l75,28M1421,1320l-31,54M1796,1075l36,65M2166,1036l51,7M1273,1137l32,52M1499,1391l-45,31M1919,1321l16,79M1136,960l10,68M1065,1244l-24,87M1368,1397l-33,64M1664,1273l44,45M1691,1064l7,44M1730,1364l-55,5M1993,1401l45,55M1351,1100l71,11M1723,1297l-23,67M1946,1221l-56,22M1603,946l62,1" stroke="#d9e6f2" stroke-opacity="0.6" stroke-width="46" stroke-linecap="round" fill="none"/><path d="M1248,1169l-37,8M1709,1275l-36,3M1242,1292l32,22M1841,995l-36,34M1893,918l-22,41M1774,1327l-26,52M1974,1219l-7,70M1763,1169l-61,28M1533,1056l17,41M1329,1176l28,1M1181,1171l-43,9M912,1254l12,57M1548,988l12,27M1470,1372l30,39M2003,952l46,38M1624,905l-3,50M985,1095l21,44M1899,960l16,36M1571,1291l-57,6M1298,1228l17,18M993,1203l-7,32M1412,922l15,81M2184,1002l-36,15M1498,1047l-30,14M1286,854l-21,39M1227,1062l54,30M1398,1382l23,57M1815,1138l3,32M1909,965l-25,13M1377,1356l5,40M956,1294l26,52M1403,1291l-33,5M1751,1088l21,25M1754,1233l-46,9M1065,1377l-23,16M1934,1106l1,30M1402,1084l-37,33M849,1297l-51,17M1434,852l35,48M1166,1218l20,36M1555,1102l-44,9M1531,1386l-38,26M1754,1019l37,7M1107,1204l35,2M1058,1221l37,26M1876,1195l-1,48M1637,1014l-46,11M1199,1244l7,26M1303,966l-12,31M1818,993l-50,13M1620,1337l-58,6M1818,1323l18,30M813,1367l-1,30M1848,1060l38,19M2124,1426l35,33M1997,1131l-24,16M1360,1086l63,42M1577,1328l38,10M1907,1286l-19,30M1330,1028l11,40M1908,1224l35,42M1858,998l42,38M1975,1374l23,25M1238,1244l23,42M2021,1185l3,35M943,1157l41,18M1741,1108l-37,2M1996,1141l-52,11M847,1402l-49,42M1897,996l-24,37M2047,990l-5,35M1173,999l48,20M1356,1078l-10,54M1896,1047l10,61M979,1303l8,47M1523,1310l-39,0M1718,1406l-27,31M1502,1387l8,50M1542,953l-13,48M2203,1023l51,39M1994,967l-23,37M2137,1227l-20,25M1290,1194l-16,31M1534,1121l-7,39M1759,1170l20,26M1254,1272l-51,12M1564,1071l-7,36M2089,1070l-5,24M2208,1016l-36,44M1047,1387l38,2M2124,1068l-9,47M1641,1095l38,0M2006,1120l37,20M1650,1454l38,21M1507,1189l-21,17M2178,1110l12,40M1944,1038l-24,14M835,1318l-45,30M923,1164l-17,39M2157,1022l-27,48M1218,1063l-39,41M1448,1410l56,16M1796,904l-13,56M1061,1065l12,48M1443,1279l21,33M1978,935l-14,48M1472,1246l62,35M1439,975l22,39M1238,998l-28,29M1618,1204l-2,33M1949,1052l-15,31M1490,1299l17,18M2198,1050l-57,29M1721,1434l-54,8M1283,1088l47,49M1400,845l5,34M1964,1101l-41,10M2021,1330l4,46M2016,1423l-12,58M1290,1066l2,29M1400,1202l-38,2M998,1337l0,37M712,1263l48,4M1278,1358l-24,38M1576,1029l28,28M738,1359l44,31M1955,1016l45,12M1133,1371l-20,39M1468,970l36,30M1379,1209l-5,59M955,1293l-0,58M1601,1241l-35,51M670,1269l32,16M1132,1110l28,54M2129,1124l-30,6M2158,986l-7,29M1000,1265l42,4M1149,1088l-48,27M1411,1112l-64,31M2099,1175l41,5M1654,908l58,38M1978,1149l-29,10M1514,1274l63,37M1592,1368l34,15M1517,860l6,35M1538,888l23,37M1034,1280l13,42M2203,1001l-27,34M1607,1272l40,1M1292,1111l-46,7M1159,1071l25,39M1087,1212l16,47M1971,1366l-2,65M1484,944l-10,27M1577,958l37,30M1221,899l2,32M1947,1416l25,33M832,1209l74,18M1917,946l-31,16M867,1314l38,5M1200,921l43,21M1350,1262l35,0M1150,1165l-2,24M1478,1072l-38,0M1846,1228l25,26M1042,1180l-48,39M1512,1196l50,36M1815,1195l48,21M2146,1050l-34,22M1960,1004l-29,40M1202,1046l-47,4M1767,1220l-37,37M1071,1027l62,39M1033,1318l-6,25M1186,1291l-31,5M1851,1160l23,22M1941,1365l11,55M1751,1255l40,21M2123,1246l-46,9M1828,1309l42,7M1224,1215l-27,30M1981,1314l19,55M1254,1205l77,22M1861,1161l24,36M909,1197l-31,37M1123,1274l-25,9M1718,1450l-38,14M694,1235l71,5M1690,1034l31,53M2099,1459l-44,7M1175,1174l-36,57M1918,1310l-36,35M1349,1135l36,33M1835,1049l-37,30M1935,1299l26,31M1363,1208l-35,21M1167,1002l-45,20M1555,1006l32,57M1457,1053l55,14M1247,1153l-61,29M1660,1181l36,14M1979,1205l46,57M1924,1200l30,4M1558,1020l37,5M1977,1302l12,37M1934,984l38,25M1186,1015l55,17M887,1326l-33,46M1989,1271l-36,17M1962,962l26,44M1334,1032l20,66M1193,1008l25,12M1067,1296l28,18M1804,1301l-22,42M2167,1148l-6,31M1941,1399l6,32M1233,1440l-40,58M2060,927l30,25M1712,983l-23,37M1555,896l42,13M1241,1299l34,28M1182,1274l18,41M1046,1085l53,11M1251,1012l-25,30M1045,1274l-33,14M1826,930l-39,43M1271,1187l12,27M1862,1383l10,39M1349,861l-8,35M1205,1180l-64,1M1677,1053l-42,12M797,1206l29,52M2193,974l-58,20M1833,988l-37,36M1151,1448l57,39M1067,1168l15,36M1599,1062l-7,44M1317,1206l58,22M1426,1327l-28,48M1099,1230l-30,10M968,1245l53,10M1175,1140l-47,4M2021,1190l20,41M2178,1032l29,4M1797,968l7,75M1944,1273l8,44M1200,929l14,64M1301,790l1,64M1073,1263l-15,56M1351,1405l-20,38M1015,1158l-31,1M1685,1072l5,30M1720,1375l-33,3M1987,1411l41,49M1553,1124l-56,5M1158,929l27,38M2128,1025l-46,27M1182,1448l74,1M1366,1110l39,6M1262,1246l22,10M1138,1199l-23,44M2137,1042l39,42M1148,1109l25,0M1899,1279l36,15M1727,1312l-15,44M1750,1014l35,15M2226,976l-36,2M2141,1089l27,16M822,1260l30,8M889,1288l-29,20M1767,1427l31,49" stroke="#ffffff" stroke-opacity="0.5" stroke-width="5" stroke-linecap="round" fill="none"/>
</g>
<rect x="600" y="1300" width="1440" height="260" fill="url(#fadeB)"/>
<g filter="url(#b4)"><ellipse cx="630" cy="362" rx="443" ry="468" fill="#fce8e0"/></g>
<g filter="url(#b9)" clip-path="url(#cpOB)">
<path d="M758,604l-54,20M325,453l57,27M274,550l38,44M894,331l-54,8M706,411l-63,4M1006,544l-15,50M783,392l8,42M374,609l10,32M279,265l54,21M465,704l-17,38M343,229l30,25M615,546l25,52M211,207l46,35M801,524l19,32M1038,294l-16,40M700,533l-55,17M680,292l-59,5M884,633l-13,36M697,595l29,17M404,351l40,16M991,548l-32,5M589,189l-20,25M1004,525l-23,29M523,380l-57,22M606,256l-9,51M304,278l34,26M512,429l33,25M561,554l-41,8M482,724l32,7M703,293l22,27M1005,537l36,36M894,411l-58,1M668,259l-38,20M514,289l18,61M539,582l-48,12M279,269l34,24M716,477l42,43M678,547l37,54M694,275l-51,11M403,639l-43,5M410,404l-27,28M884,432l-48,41M485,302l-10,42M328,534l41,10M1014,320l-40,18M867,591l-24,33M838,202l-31,15M435,372l-12,39M737,290l-13,63M635,469l-29,42M476,614l-18,27M848,551l-56,0M890,322l51,13M614,676l56,7M599,795l-42,31M621,797l28,17M952,482l44,43M854,293l-49,29M985,602l-48,24M603,476l61,4M670,307l3,55M537,573l58,7M747,260l50,24M847,245l-24,48M680,624l49,0M212,444l20,33M841,546l-37,1M402,424l-13,43M806,460l5,66M1008,331l-12,45M431,628l-38,10M922,514l-40,46M866,197l37,38M909,575l43,17M458,213l-16,35M899,687l-39,23M750,478l21,62M522,560l60,22M582,782l-8,37M485,704l-63,11M1036,430l-13,30M470,401l-54,5M706,252l-33,46M795,597l25,36M789,336l23,59M625,482l-18,54M713,684l-4,49M296,277l30,46M724,417l44,29M462,358l-43,42M531,200l38,39M447,535l49,18M369,401l30,46M323,295l34,9M604,534l46,45M659,564l-30,26M219,395l35,30M465,653l33,33M647,465l63,19M556,423l-25,33M733,537l-44,0M460,517l-2,39M445,512l43,46M1004,590l-38,14M672,326l61,7M425,327l29,36M515,627l32,40M390,366l-44,34M747,429l6,62M872,182l44,37M639,787l-10,50M280,560l-36,16M449,345l38,7M508,629l29,22M567,424l-15,38M959,336l19,34M260,302l3,53M418,723l-64,13M518,636l9,37M425,504l46,29M825,679l-56,36M860,657l55,17M563,461l37,51M860,199l16,32M874,726l-23,44M739,451l1,44M869,661l50,2M805,636l-19,27M702,638l-50,39M947,257l-27,32M1060,456l-66,7M689,265l40,23M620,703l-30,12M377,331l30,23M822,742l-25,23M481,663l-13,54M773,546l-53,16M376,429l53,2M534,376l39,49M424,228l-8,36M489,436l-34,2M461,213l-52,35M395,298l-16,43M335,522l-43,12M521,411l-4,46M557,780l40,51M326,588l54,30M897,625l-14,37" stroke="#e0d6d6" stroke-opacity="0.75" stroke-width="32" stroke-linecap="round" fill="none"/><path d="M377,426l23,26M588,750l-59,18M707,507l-33,41M600,493l31,56M196,373l45,42M534,727l41,51M874,370l-42,2M732,574l55,26M218,327l-26,20M703,301l-49,2M855,577l59,20M802,685l-46,26M639,475l-47,26M964,418l35,15M633,459l-40,24M354,658l60,25M294,298l18,38M448,550l-25,31M591,462l-38,6M438,479l-26,23M351,426l25,53M387,291l-40,51M761,336l31,35M623,733l-36,19M350,229l64,4M1062,350l-41,4M575,294l3,51M829,536l41,25M516,602l-10,61M258,399l29,30M993,473l18,53M345,394l58,4M1013,233l11,60M935,187l15,31M356,409l-54,5M504,302l-29,54M379,508l-52,25M650,254l-29,20M338,348l-54,26M681,597l-35,18M771,747l-34,50M924,310l-33,53M980,214l-14,32M730,323l4,33M612,275l-35,0M408,284l17,28M378,517l-24,36M408,329l-47,24M891,362l-30,11M676,197l58,22M432,545l-33,29M742,764l-42,36M659,207l2,36M842,474l-15,44M288,522l57,26M948,324l-40,21M800,606l-14,33M820,463l50,30M550,478l52,1M644,729l49,45M441,726l49,1M472,609l2,34M444,252l35,18M266,247l-40,17M868,218l-53,6M832,735l20,28M651,396l48,20M371,628l18,28M790,228l-39,3M823,542l43,22M824,432l-36,7M815,398l16,58M930,590l-46,10M513,266l2,61M278,224l-60,22M427,225l-14,53M507,671l-11,39M374,699l-27,22M859,392l18,29M925,527l47,15M351,632l53,36M227,419l-21,27M854,557l35,43M696,545l6,51M489,705l50,40M352,303l13,35M474,421l10,47M625,450l-52,33M640,429l25,53M283,609l-0,33M769,683l-61,1M442,637l-40,48M910,607l46,44M881,196l-42,40M528,232l-38,34M921,499l39,7M705,632l20,45M922,262l-52,6M242,603l43,4M756,707l-55,9M803,621l-26,55M836,639l-33,1M606,316l-50,40M596,554l22,30M1020,227l-54,38M351,433l58,6M872,265l10,50M781,447l21,61M698,694l34,1M223,472l31,45M727,679l24,55M247,277l-53,33M313,637l54,13M901,690l18,28M751,569l24,50M462,443l-29,31M205,215l26,36M540,556l34,26M615,699l-22,37M570,723l59,15M203,311l13,63M472,263l5,35M541,627l17,49M792,606l58,23M885,426l-9,58M569,303l-31,13M580,233l-32,37M250,209l-6,45M899,609l-41,1M629,733l-22,47M251,349l2,60M578,770l-39,5M671,278l48,44M744,431l-22,31M819,415l-26,32M497,378l-1,63M238,475l38,10M492,491l-47,1M702,801l-37,19M743,599l-13,40M398,700l3,41M497,544l39,9M308,519l-10,45M605,685l41,12M684,403l-11,48M897,529l-19,36M432,444l-31,26M798,195l21,28M811,607l-50,14M795,513l-26,19M513,424l-59,6M742,289l33,30M437,197l-10,42M772,720l-40,9M274,338l-32,15M540,363l-29,32M655,749l56,6M627,535l23,31M431,206l29,34M586,713l37,38M696,285l35,28M524,678l25,58M811,205l-40,35M882,644l28,44M722,483l-27,54M630,641l32,33M784,687l2,37M537,341l37,7M551,751l-29,29M1005,444l-2,51M755,589l35,37M833,653l-1,36M397,195l-25,50M278,292l3,41M571,519l-28,26M910,282l43,42M245,252l-56,9M512,345l-14,43M397,621l-42,15M551,508l-52,23" stroke="#fff2e8" stroke-opacity="0.85" stroke-width="32" stroke-linecap="round" fill="none"/><path d="M595,481l-33,16M676,243l10,62M851,323l-35,17M963,615l-41,11M939,587l-6,38M628,432l-34,47M658,678l38,35M549,319l-52,19M420,334l-23,24M463,581l40,41M368,517l44,1M477,561l-9,51M470,235l-38,8M443,291l-51,27M861,317l24,28M937,515l34,2M912,401l53,23M504,488l37,0M502,219l53,27M492,386l3,39M249,498l-50,18M905,524l-14,48M282,488l-40,39M555,332l56,7M797,351l43,31M997,368l45,13M817,325l34,29M648,581l-27,36M432,681l-34,22M650,564l-61,1M809,741l-45,0M391,620l28,22M624,404l39,23M517,314l-61,25M620,490l20,28M615,573l-59,22M486,563l-33,24M440,625l48,26M745,354l-56,11M504,541l-55,20M679,354l40,32M492,533l-48,9M779,251l48,44M542,440l-3,49M614,351l-28,37M233,249l-3,36M459,601l10,60M858,399l-27,26M752,516l-34,34M782,413l-29,22M648,369l16,36M1004,251l-47,20M931,652l-51,11M803,483l34,26M940,632l39,2M421,618l-46,30M1042,240l-16,37M340,429l-43,5M694,242l-64,11M1017,526l-43,37M318,366l-60,11M606,515l46,9M759,753l50,36M680,577l-39,9M822,397l1,44M657,237l19,40M346,679l-12,35M476,641l-9,31M752,618l53,3M231,532l47,20M717,653l42,5M568,662l-0,38M315,601l-46,12M905,563l30,29M857,400l-1,45M521,753l37,49M780,229l29,18M642,300l-0,39M429,390l44,10M930,283l-40,48M542,794l48,7M619,686l4,39M789,383l-37,6M540,325l-31,54M450,216l2,33M301,512l58,28M654,306l-27,23M373,417l-45,34M365,397l28,25M523,706l23,36M198,474l55,33M1046,489l-15,30M436,347l23,55M705,357l26,40M374,336l49,36M406,648l-47,3M757,632l54,12M1049,418l-22,51M939,400l-42,32M279,417l37,30M1076,434l-60,25M714,349l43,46M235,444l-63,13M403,208l-9,31M700,792l9,32M661,709l-9,56M490,233l44,19M931,429l-18,31M478,458l-7,39M395,633l-12,38M530,192l32,41M565,343l-40,49M309,444l34,2M792,273l14,33M647,638l50,21M237,444l48,23M230,431l-41,3M792,264l-53,23M732,475l-42,24M805,423l-3,45M592,243l50,25M291,547l-5,54M421,572l49,7M558,430l-33,9M572,518l46,46M965,626l-3,53M446,413l6,43M846,323l18,40M749,493l-33,16M927,420l10,46M969,553l-62,14M988,212l35,43M500,282l-22,31M611,637l-46,17M777,522l9,41M317,650l25,33M260,529l-39,23M406,594l-23,24M319,647l-12,48M332,327l22,34M448,660l12,66M842,567l-18,46M279,342l-32,27M599,780l27,29M626,521l-37,19M897,677l-34,1M680,208l33,11M551,301l36,22M839,469l34,17M961,445l-61,11M998,223l43,22M737,233l27,31M507,409l37,39M510,496l9,61M948,450l7,38M843,700l-17,56" stroke="#e8d6d2" stroke-opacity="0.6" stroke-width="32" stroke-linecap="round" fill="none"/><path d="M818,724l14,37M820,639l23,42M792,271l-45,23M608,508l24,27M819,628l14,40M565,513l48,41M644,477l31,33M382,369l17,51M398,339l14,49M461,249l10,55M1011,238l-37,22M766,348l-32,10M741,333l-45,48M923,460l-31,46M372,425l10,33M401,402l45,40M300,360l37,12M238,210l-30,24M692,685l40,48M899,410l-63,12M378,318l-33,17M251,303l-18,33M542,316l45,26M521,437l-31,57M844,692l-26,39M854,622l-11,61M587,768l-39,14M406,478l37,37M756,756l-41,13M500,414l-46,0M619,315l-49,39M991,286l5,47M717,566l-43,33M708,542l33,29M506,572l39,20M325,315l-15,33M712,626l20,30M921,436l-55,20M192,281l42,14M903,400l-27,18M671,212l-50,32M319,497l-49,16M743,240l-51,38M1030,560l-48,6M866,305l38,36M360,655l-39,51M942,279l52,8M279,409l22,52M848,447l19,35M637,733l9,53M1036,395l31,20M846,595l49,14M448,214l2,43M361,477l9,37M482,534l23,36M373,513l-40,51M313,640l8,37M963,296l-36,9M937,360l-57,0M892,692l38,11M677,520l6,60M689,537l-65,12M631,294l-61,13M420,407l1,33M561,605l38,38M844,223l-41,8M299,606l-28,44M1003,191l-37,50M681,747l-20,51M890,205l-26,45M875,223l45,29M463,776l37,7M572,208l-57,27M739,304l42,36M604,757l-28,37M673,358l-16,32M450,286l-53,4M734,275l36,37M452,416l-24,48M532,703l-24,41M771,395l45,31M219,287l8,34M802,598l-63,4M579,652l39,7M862,580l-33,2M385,573l43,3M707,580l30,20M917,661l22,45M608,299l-34,37M549,350l31,45M491,262l-31,13M815,324l-37,49M885,617l14,58M409,243l-47,23M295,492l33,37M523,588l-32,29M952,186l4,35M1015,575l-23,39M730,783l-12,37M688,537l57,15M572,394l-14,47M850,471l59,13M994,470l-43,37M654,582l29,36M1039,199l-32,44M392,487l43,35M460,718l36,47M582,189l5,44M270,249l38,50M300,385l36,53M626,656l-63,17M260,224l6,53M811,232l-27,31M973,207l18,62M432,571l-5,63M854,610l6,58M241,295l24,60M762,297l-18,27M245,449l53,39M416,278l60,17M494,228l43,2M843,329l22,42M286,314l-38,6M858,275l-54,14M807,517l-39,3M386,270l-22,25M215,282l20,26M648,808l-50,20M512,720l33,10M494,185l23,60M791,408l-56,25M572,356l35,12M840,455l-32,40M695,631l-47,30M742,733l30,19M877,201l51,37M440,393l-10,40M510,738l-32,8M648,444l-24,29M732,244l29,29M240,332l20,33M667,599l-36,17M401,410l-4,32M600,287l-39,0M587,278l-36,19M643,288l35,1M248,248l17,50M861,237l-16,32M336,491l-31,52M906,515l33,2M945,295l11,37M462,364l52,14M1008,487l30,10M490,518l-44,6M296,350l20,54M804,300l-14,31M731,205l29,34M358,316l-4,44M635,599l11,56M604,398l-29,58M655,323l-16,57M340,622l-0,49M828,715l-32,3M964,556l-3,35M554,215l52,4M758,245l59,31" stroke="#fbe4da" stroke-opacity="0.8" stroke-width="32" stroke-linecap="round" fill="none"/>
</g>
<g filter="url(#b4)" clip-path="url(#cpRim)"><ellipse cx="630" cy="362" rx="473" ry="498" fill="none" stroke="#fdfdfd" stroke-width="62"/></g>
<g filter="url(#b6)"><path d="M0,783 L45,756 L136,697 L240,690 L330,720 L500,755 L700,775 L860,795 L900,801 L1050,812 L1189,824 L1244,855 L1241,868 L1150,930 L1085,976 L1021,1060 L900,1150 L772,1200 L678,1203 L610,1185 L620,1300 L600,1360 L497,1357 L470,1425 L452,1380 L384,1357 L316,1357 L271,1370 L181,1384 L113,1388 L68,1348 L0,1357Z" fill="#fce4d9"/></g>
<g filter="url(#b2)">
<path d="M824,1109l49,54M813,874l48,14M1059,836l21,50M458,1309l76,17M104,1028l3,61M176,1060l-75,25M480,959l-56,18M249,821l-47,8M251,1144l-13,50M167,870l-2,53M486,1291l-84,6M120,1186l59,5M72,1025l-15,61M212,854l20,50M450,1002l-0,88M987,963l-21,58M170,1207l86,2M608,1068l56,20M781,875l52,62M287,843l59,47M152,1104l51,36M174,780l67,41M579,866l-8,76M85,1236l-39,24M166,864l9,57M1002,961l-72,17M271,1111l-87,27M759,1099l-15,71M1146,861l71,26M480,969l48,41M258,936l23,80M392,1206l35,74M394,1019l29,61M300,1060l-42,43M763,1005l57,62M903,1027l31,70M550,1097l34,42M671,956l-55,3M239,1038l-32,37M606,776l-10,68M84,1138l-63,66M451,1127l53,36M444,987l-18,75M865,1033l-60,18M196,843l61,2M447,927l38,41M414,1299l-81,0M415,1217l59,56M863,1062l-7,73M1064,836l26,50M518,1147l-32,64M659,1014l57,8M963,979l-7,47M298,1250l60,60M427,869l-8,61M120,1148l-11,60M1090,859l-65,46M480,922l68,27M264,1319l61,35M64,882l-58,45M431,1023l46,5M377,1045l-53,53M187,1241l-35,73M605,960l74,10M714,1053l30,79M586,764l15,87M456,769l62,20M139,1042l-73,0M898,889l-38,79M72,1185l-8,46M430,1190l47,34M484,1094l45,0M51,1190l-6,54M483,1203l32,33M493,825l-71,56M532,1140l-46,41M204,1026l-43,69M428,790l-44,34M723,923l35,50M579,823l81,0M394,1022l68,50M674,1118l-29,64M206,1255l-43,57M706,771l0,81M205,1318l75,31M823,843l-30,63M548,1312l63,13M237,1276l-16,80M268,991l-26,69M748,953l45,60M999,965l-47,2M615,1096l-49,2M835,901l41,35M25,1123l67,51M204,1203l-29,64M456,1118l-22,47M267,1084l-73,21M824,1119l74,13M156,774l44,60M901,997l9,67M363,885l66,35M438,1246l57,37M870,798l-36,42M333,1154l-18,41M689,1023l33,49M795,833l50,45M187,723l-50,71M115,1233l-62,22M537,916l-61,56M346,1232l-64,55M75,774l52,3M224,856l-23,37M832,1007l-40,68M449,807l77,31M191,1021l-56,40M196,1288l-83,4M749,918l22,44M827,937l10,53M578,937l-62,12M135,1018l-9,64M531,965l-22,78M541,905l-41,47M697,1052l-35,78M851,873l-33,29M657,1034l-42,33M1116,872l54,49M263,952l8,85M464,763l-4,47M740,988l67,6M798,835l-77,3M748,884l61,21M582,847l28,36M427,1179l-3,88M214,1223l-53,71M190,1250l-17,45M838,1001l-39,38M957,1002l41,72M14,1280l38,63M494,775l-3,48M111,893l-6,62M799,1111l20,44M303,1222l-67,42M347,1081l44,79M49,748l8,74M857,988l-30,77M390,800l47,62M327,1119l-45,28M614,1118l21,79M302,1220l63,38M442,887l-77,43M310,965l74,17M496,1156l47,76M887,992l40,62M727,1151l70,2M1072,924l69,2M409,1155l8,45M260,1030l-46,15M83,1237l-20,55M884,887l83,9M153,899l-62,61M162,1179l36,79M389,1304l-56,53M448,743l-10,74M427,1201l54,54M825,1051l1,53M233,796l-75,52M292,1065l-56,12" stroke="#f7d8c9" stroke-opacity="0.8" stroke-width="46" stroke-linecap="round" fill="none"/><path d="M529,903l-6,84M931,947l-65,23M725,822l65,22M245,839l-59,49M403,1260l61,65M325,1116l78,12M561,1079l33,82M486,1255l56,43M526,787l-68,23M293,1222l3,56M865,824l-45,60M885,829l-31,52M596,1081l-0,56M688,1076l33,52M901,1052l-24,61M123,1216l69,39M910,932l34,77M181,1075l62,11M655,989l75,1M203,908l-9,74M169,1217l-65,7M226,1252l-18,60M449,761l-58,31M42,1059l-18,42M489,973l-78,18M864,905l-59,69M550,890l-71,38M148,745l9,45M600,1099l80,3M658,930l36,38M619,1123l-50,9M209,1036l22,42M195,943l31,42M307,1060l17,87M508,1269l5,64M154,1259l-85,12M1089,901l28,45M653,840l-29,63M843,1019l-68,17M42,1050l53,40M10,874l86,4M507,957l-16,90M482,1322l55,21M969,945l53,44M94,814l45,19M257,942l-58,64M441,1144l-1,81M705,920l35,47M247,1227l68,57M198,1177l13,86M585,804l-19,54M722,942l-48,4M458,1218l76,35M808,847l18,75M943,848l9,70M154,1248l-54,10M1004,892l-46,67M669,1010l58,10M442,946l-57,60M568,821l-85,25M922,1088l-29,45M999,866l26,36M506,841l72,9M997,931l81,41M420,937l-55,12M174,1200l75,5M985,828l-29,36M469,802l-6,50M294,1024l-13,58M377,968l85,16M448,844l-2,68M734,1059l67,53M572,1134l-46,17M450,1212l61,30M483,835l51,17M120,1053l-70,13M959,982l-50,4M370,963l31,33M625,1020l-28,50M196,1297l9,82M493,891l33,43M547,876l-64,34M1001,850l37,56M291,954l56,70M403,752l-44,20M446,1206l-69,20M182,1343l-71,4M596,857l4,81M466,975l-43,42M206,847l64,12M324,930l73,39M250,1310l-11,76M296,1245l75,28M872,946l-74,48M579,899l-58,47M584,927l59,1M308,940l47,17M41,862l2,58M149,1002l62,3M844,1003l-50,70M590,800l34,71M587,1170l-8,62M527,1049l-76,12M313,908l81,26M386,955l-45,10M249,1126l-90,4M458,1038l-35,81M854,937l79,22M406,1024l-67,55M490,1269l56,71M527,910l17,41M1002,905l-73,50M711,973l77,10M636,872l23,70M60,1116l55,47M817,1034l64,42M235,894l16,66M244,1225l76,35M976,831l-62,44M126,1040l51,27M576,1106l-5,47M154,1215l52,32M969,828l-25,48M415,815l62,11M304,1037l6,65M465,990l71,33M443,840l-53,61M386,1266l63,14M64,832l7,66M31,1265l-4,79M252,1066l23,67M454,1105l-51,8M363,736l-41,35M69,1099l-52,22M574,845l71,25M206,745l-12,69M66,1079l80,38M280,933l-74,13M290,1247l-41,47M675,1020l-1,79M490,1203l4,55M484,953l-46,32M471,1067l-63,16M698,845l32,85M816,1103l-49,3M253,1213l-54,36M649,1000l49,37M167,1338l69,33M930,1106l-80,25M1017,924l-28,50M485,1324l71,3M599,1136l78,6M973,894l-30,41M311,949l-6,60M686,1125l72,18M966,1025l-20,54M194,1203l61,25M180,1040l-16,42M895,964l85,12M528,909l-12,63M501,866l-72,43M44,1166l-18,42M475,1186l-12,42M615,1030l-53,1M630,966l-22,44M796,824l-5,52M140,1279l-61,24M333,806l-84,14M770,1021l-59,31M791,1017l64,2M193,1286l-84,25" stroke="#fff1e7" stroke-opacity="0.8" stroke-width="46" stroke-linecap="round" fill="none"/><path d="M764,1049l4,60M933,1030l-38,74M659,894l-32,65M474,1024l-33,73M695,908l-63,41M588,1194l-61,18M769,1046l42,49M849,1015l-1,90M66,1298l-54,18M74,1232l-62,20M814,911l28,47M166,1190l92,0M19,887l78,30M297,1148l-38,81M870,963l-31,38M598,1082l1,45M211,922l60,6M1080,905l-2,44M487,1031l-60,60M151,718l74,5M477,1032l-60,68M362,723l-59,46M186,1083l44,55M31,1147l47,1M1054,914l39,33M5,1023l42,21M665,1119l-35,62M719,850l23,85M359,1300l-53,49M29,925l12,43M590,1193l-79,0M434,1270l11,53M302,1027l80,22M497,908l-47,76M693,1090l-59,16M571,1046l49,69M249,1222l41,75M184,1203l17,51M78,1285l-70,27M524,1087l69,56M482,1035l-3,49M272,923l-74,29M56,1003l51,49M421,1236l6,46M344,1055l24,54M298,1202l36,72M254,1216l6,49M298,748l79,18M802,855l59,10M855,779l11,89M410,1242l-82,1M203,1281l55,2M730,1140l9,49M122,833l-53,33M1049,828l-12,75M378,852l39,47M380,1198l-27,52M631,1004l35,59M314,779l-25,59M884,1075l-47,10M520,929l-16,52M566,1213l-50,34M418,1113l0,85M474,920l72,47M489,1027l46,43M774,895l-40,29M233,850l-72,53M144,1019l-12,69M446,962l-58,43M711,858l0,48M279,1138l-25,53M324,1276l-10,55M721,1112l48,54M124,884l81,35M466,1006l-23,64M901,873l16,48M345,1284l56,36M265,719l20,48M528,1287l-53,57M108,809l-52,48M297,1255l52,7M417,1092l64,15M600,995l20,58M585,1107l-44,15M28,1198l65,35M488,898l8,91M568,1147l-10,60M262,1305l63,32M87,826l29,44M549,793l-37,84M820,810l-78,33M1076,821l-5,81M755,1034l57,25M1082,932l-72,8M365,871l46,76M386,904l83,40M616,1035l-46,21M503,1036l-46,11M436,1145l-63,18M426,813l-50,62M818,1080l-50,65M443,938l62,13M738,791l-31,31M455,1297l18,74M940,945l-36,33M497,1171l-56,55M180,1099l40,29M181,705l-71,43M298,726l9,73M700,936l-79,5M595,1035l-41,48M827,1002l44,21M404,1288l-40,37M940,899l-46,9M27,1162l42,58M428,1171l-70,40M116,774l68,61M436,1268l-42,12M1003,792l26,88M612,1063l48,18M316,870l17,62M911,1056l58,9M397,1301l-77,20M42,894l60,39M231,999l-62,16M54,853l-44,73M968,808l6,71M111,1322l-32,34M110,1118l77,23M200,1263l41,24M134,728l68,39M269,960l-35,50M468,1155l-43,80M585,790l-34,34M349,769l36,63M78,807l47,51M541,1109l-3,45M280,752l-20,47M39,1106l62,33M453,939l-3,65M365,928l22,85M994,1018l-49,42M721,1148l-0,53M349,896l45,9M572,818l-20,41M1018,915l-36,75" stroke="#ecd8d2" stroke-opacity="0.55" stroke-width="46" stroke-linecap="round" fill="none"/><path d="M146,811l-64,29M259,892l36,52M136,783l85,14M281,1217l-12,70M748,1039l-76,40M837,926l-17,50M544,1159l19,89M45,1278l-22,40M986,947l-38,47M108,821l-45,15M400,1186l45,51M366,1249l34,37M480,994l76,25M507,1234l24,60M359,1002l48,7M397,1029l-36,49M398,862l47,61M1087,858l10,48M281,953l45,66M362,789l28,42M179,1297l-13,45M395,1051l-10,62M8,1210l45,25M220,746l-28,86M487,1230l-19,59M897,856l-59,37M268,1110l-9,64M719,921l-18,52M1133,887l-36,37M319,804l76,49M648,991l20,69M728,1073l-87,12M330,1005l33,84M88,763l57,8M260,941l-34,42M589,1102l46,75M473,760l-34,51M418,841l-43,18M889,989l-65,8M224,1234l57,12M390,1221l-26,41M366,968l-72,8M111,1035l-47,35M1099,898l-53,21M725,994l78,11M764,972l65,38M223,1141l-40,49M881,1023l-46,56M493,1230l-49,42M503,949l-9,70M328,800l-70,30M500,865l35,30M856,852l-65,32M390,767l64,4M109,906l45,3M52,841l46,27M671,1101l46,18M968,887l-29,34M456,951l-49,19M771,1128l26,72M534,1245l1,56M435,1189l-84,17M336,1194l29,46M477,1252l-86,10M883,893l-22,51M770,948l-55,13M326,938l31,32M551,1254l3,59M711,914l58,37M449,795l18,46M309,1127l-50,58M867,790l-16,64M320,952l-41,76M788,1056l6,90M846,1036l-73,19M568,1082l63,30M611,892l-49,22M669,835l24,61M446,869l-68,54M367,1305l-51,5M165,812l-49,74M221,741l-52,41M1009,892l49,44M857,1035l-48,34M409,1312l60,55M240,692l-15,47M264,1240l-81,8M563,941l-9,55M191,1307l-40,34M614,1105l73,48M693,941l33,37M116,874l-8,47M1043,884l68,25M358,1100l8,51M412,1073l31,39M444,1156l-49,4M323,1031l-5,59M281,830l-32,58M606,1316l-65,31M266,1311l70,6M120,1201l-54,27M256,704l-49,35M349,1195l-84,18M530,873l65,56M200,1028l-17,59M433,1024l-22,73M205,943l60,41M325,1023l67,25M759,959l-45,3M1140,853l-27,72M592,882l46,75M254,820l-49,4M166,1103l26,37M1099,954l-71,8M188,1270l73,43M860,867l46,68M202,1256l2,75M662,1107l59,4M459,1127l54,11M444,924l65,2M199,966l48,43M510,946l32,43M649,848l-55,46M659,977l72,16M530,819l71,9M27,1237l10,47M67,964l50,0M735,1089l89,11M870,1002l-46,12M553,873l61,63M756,790l-35,58M795,817l88,26M210,737l81,16M486,1220l-69,15M740,785l-22,42M11,1026l82,9M383,1001l-29,84M479,997l-3,46M204,1161l14,88M116,1105l43,26M919,992l-46,18M379,803l32,40M54,1269l-56,39M160,1227l-39,67M683,818l-36,58M223,723l-72,40M800,910l45,13M887,828l19,67M221,741l-65,34M860,972l-55,2M463,1285l75,35M929,1049l-45,55M167,1112l12,60M465,968l-47,74M335,1147l48,46M411,1013l-40,48M595,822l44,6M426,1110l-76,26M891,889l-58,12M306,1291l2,49M226,1282l23,45M119,1032l-76,40M717,1079l-41,36M1212,826l-65,48M116,815l55,34M132,812l-31,40" stroke="#fde3d6" stroke-opacity="0.8" stroke-width="46" stroke-linecap="round" fill="none"/><path d="M139,821l-44,20M732,1038l-52,28M657,911l-17,35M730,832l51,17M844,932l-15,44M458,1030l-23,51M248,852l-49,41M501,1250l41,32M1053,848l15,35M173,1074l-60,20M838,1037l-1,46M972,948l-26,32M415,1186l32,37M855,822l-40,54M499,994l41,14M174,1181l74,0M36,881l52,20M908,1062l-20,49M279,1164l-20,42M364,992l40,6M926,936l26,60M401,880l27,35M279,974l27,40M371,791l20,31M194,925l-4,38M611,1085l1,40M11,1220l33,18M435,758l-38,20M220,769l-15,45M1073,909l-2,35M884,854l-42,27M793,874l42,50M289,855l45,35M156,1116l36,25M1135,902l-23,23M321,818l60,39M71,1232l-22,14M986,957l-45,10M723,1087l-74,10M766,1118l-8,39M591,1121l28,46M416,856l-27,12M658,947l20,21M613,1113l-41,7M206,1043l17,33M234,1226l42,9M140,1248l-60,9M711,865l16,60M773,1006l46,50M323,1023l43,12M898,1036l26,58M546,1105l29,36M642,849l-18,39M481,919l-29,47M691,1098l-52,14M54,1049l38,28M489,1042l-2,36M866,1032l-25,31M261,940l-44,17M429,1242l4,32M358,1058l17,38M321,817l-45,19M113,900l39,3M51,854l36,21M431,1157l-1,54M720,921l24,32M676,1096l41,16M400,1310l-53,0M853,1073l-4,49M1075,837l21,40M192,1197l8,49M575,806l-15,44M212,1274l38,2M116,829l-47,29M801,859l13,55M1039,837l-8,52M392,857l23,28M152,1258l-46,9M433,879l-6,43M644,1012l21,35M678,1003l44,7M1093,873l-55,39M303,786l-17,39M467,1245l-69,8M440,962l-40,41M550,821l-52,15M883,1082l-41,9M439,1032l28,3M761,939l-43,10M612,951l62,9M549,1209l-31,21M407,927l-34,8M990,839l-21,27M428,1201l39,28M565,1264l2,39M444,809l10,25M306,1149l-25,29M213,849l-47,35M63,1203l-3,31M149,1034l-7,42M480,827l-53,41M537,1152l-40,36M611,901l-41,18M441,858l-1,39M679,837l20,52M202,1039l-30,49M560,1130l-27,10M722,936l24,34M436,956l-52,38M677,1130l-21,46M263,1146l-13,29M210,1270l-32,42M215,1333l48,20M814,845l-24,51M556,1307l49,10M406,1323l53,49M244,704l-8,26M189,1317l5,45M252,1248l-56,6M505,885l29,37M762,953l34,46M570,955l-5,29M175,1306l-23,20M363,1279l34,22M528,879l-33,18M403,759l-38,18M696,955l18,20M309,1250l29,4M34,1138l42,31M422,1102l51,12M605,866l3,62M440,1165l-40,4M605,1331l-51,25M462,987l-27,26M220,860l32,6M49,1195l35,19M108,1193l-41,20M260,1319l-9,62M482,906l6,76M275,1299l47,24M915,1010l5,37M368,895l50,27M443,1258l40,26M551,819l-18,42M813,838l26,23M1069,942l-44,5M32,870l1,43M85,769l34,2M341,1016l44,17M818,1010l-30,50M593,1174l-7,56M752,970l-31,2M177,1300l-46,2M762,921l14,28M502,1050l-39,9M509,1042l-44,7M323,900l66,21M242,1134l-76,4M439,1049l-21,48M564,929l-39,8M248,814l-39,3M1087,962l-46,5M507,1271l41,52M523,922l9,23M119,1028l-5,39M730,969l40,5M513,979l-12,42M543,918l-30,34M668,1115l46,3M724,787l-21,21M467,1301l15,60M941,957l-25,23M468,1120l39,8M454,934l45,1M266,1227l39,18M648,1028l-37,29M1123,891l28,25M139,1031l38,20M525,951l16,22M564,1116l-3,24M73,977l39,0M161,1212l43,26M470,1004l52,24M438,857l-33,38M794,846l-69,2M746,790l-30,49M23,1273l-3,62M414,1189l-2,65M471,1230l-35,8M306,734l6,54M202,1229l-39,53M181,1252l-13,37M680,928l-41,3M600,1047l-34,39M970,1005l32,56M665,1034l-1,50M424,1183l-52,30M470,947l-31,22M123,792l43,38M27,1287l24,40M458,1079l-34,9M995,810l18,59M48,1281l-37,26M710,851l25,66M687,834l-25,39M237,1216l-28,19M122,897l-5,56M616,1071l35,13M308,881l13,45M790,1122l15,33M385,1296l-57,15M303,1237l-53,33M214,737l-47,26M44,766l4,40M880,847l10,34M171,1347l57,27M914,1103l-52,16M1004,920l-24,44M610,1131l15,57M502,1315l37,2M37,855l-33,54M307,1232l45,27M979,817l4,51M978,909l-19,26M299,957l-4,43M217,1257l21,12M512,1170l26,42M179,1117l9,46M1083,930l47,2M470,1163l-37,69M590,801l-28,28M539,918l-10,50M890,897l69,8M94,813l26,29M286,762l-16,36M413,1125l-44,15M879,879l-40,8M441,948l-2,47M998,1033l-39,33M224,1296l12,23M172,1184l29,64M480,1196l-7,27M731,1154l-0,41M802,837l-3,28M1199,824l-50,38M140,1294l-50,20M320,801l-61,11M835,1057l1,40M288,1076l-43,10" stroke="#ffffff" stroke-opacity="0.55" stroke-width="5" stroke-linecap="round" fill="none"/>
</g>
<rect x="0" y="1150" width="640" height="300" fill="url(#fadeO)"/>
<g filter="url(#b6)"><path d="M2750,200 L2687,313 L2646,426 L2624,562 L2592,607 L2588,697 L2606,788 L2628,878 L2619,950 L3000,950 L3000,200Z" fill="#dcdcdc"/><path d="M2385,950 L2452,936 L2619,909 L3000,909 L3000,2100 L2718,2100 L2627,2073 L2492,1983 L2356,1892 L2112,1757 L1960,1700 L1955,1540 L2080,1525 L2220,1500 L2200,1415 L2080,1400 L2110,1290 L2190,1250 L2215,1150 L2260,1080 L2316,1010Z" fill="#dcdcdc"/></g>
<g filter="url(#b9)">
<path d="M2762,313l17,59M2964,625l53,41M2764,544l-88,48M2838,586l48,15M3009,835l-33,98M2726,619l69,35M2759,891l-20,95M2801,189l-11,52M2721,688l-4,95M2792,752l-60,63M2774,730l77,4M2980,215l20,91M2920,932l-47,24M2942,459l-31,58M2745,436l-75,59M2725,619l-19,61M2847,627l-33,41M2897,761l-47,49M3019,543l-42,75M2879,943l72,6M2678,485l91,13M2888,655l34,40M2659,495l28,67M2702,472l27,83M2985,209l12,79M2978,225l-32,87M2995,395l-9,88M2762,456l34,76M2986,388l-35,96M2883,558l-63,79M2726,500l-38,71M3004,723l-63,17M2731,705l75,39M2827,659l101,14M2786,400l-45,84M2865,574l-32,57M2783,230l-61,35" stroke="#e8e8e8" stroke-opacity="0.9" stroke-width="16" stroke-linecap="round" fill="none"/><path d="M2730,801l-29,77M2900,579l-100,12M2776,854l-17,68M2963,296l-61,36M2989,886l-26,98M2809,622l33,48M2820,235l-32,71M2657,488l76,23M2815,398l-31,85M2738,395l-49,12M2855,840l-63,56M2819,693l-60,61M2765,579l-57,31M2680,781l-15,79M2656,754l29,97M2778,370l-99,1M2925,801l22,99M2831,680l-25,91M2700,302l42,56M2681,860l-2,87M2692,875l82,4M2672,554l66,80M2866,908l-73,3M2841,250l53,61M2869,716l95,5M2840,221l4,63M2978,721l-28,46M2810,816l40,44M2820,226l101,1M2872,713l52,1M2826,655l49,68M2847,517l-26,47M2875,422l-7,79" stroke="#e4e4e4" stroke-opacity="0.9" stroke-width="16" stroke-linecap="round" fill="none"/>
</g>
<g filter="url(#b2)">
<path d="M2681,1139l48,23M2563,1443l-61,61M2311,1607l-10,64M2835,1215l-50,56M2385,1022l76,2M2690,1656l42,75M2235,1511l37,56M2420,1662l-77,10M2668,1077l-73,19M2468,1600l-74,51M2523,1076l94,15M2547,1402l-32,102M2929,1471l57,23M2415,1306l-30,50M2359,1088l-72,35M2623,1442l90,25M2638,1597l36,89M2612,1158l-57,72M2539,1059l65,12M2325,1382l-73,28M2387,1522l-64,21M2608,1185l-83,47M2587,1597l-39,41M2143,1520l76,48M2215,1178l51,41M2680,1023l-67,35M2028,1635l41,95M2822,1269l-45,98M2648,1034l-45,83M2377,1213l55,90M2400,1339l60,80M2332,1189l-50,51M2571,972l101,23M2651,1103l-61,23M2385,1038l25,95M1966,1611l57,35M2851,1212l62,50M2803,1268l22,68M2169,1536l55,5M2277,1458l53,7M2823,1390l0,66M2300,1656l-56,8M2876,1284l74,49M2360,1342l-76,2M2982,1471l-41,41M2187,1559l63,0M2588,1579l-72,73M2526,1089l-59,27M2717,1172l-86,65M2743,1270l55,64M2611,1060l2,95M2398,1225l-86,25M2580,1020l5,100M1981,1569l74,80M2404,1497l-48,29M2755,1119l53,10M2830,1522l36,100M2386,972l-30,64M2303,1614l-44,32M2969,1218l-100,7M2510,1035l-36,94M2723,1095l-40,62M2583,945l42,58M2716,1066l-77,25M2678,1285l53,34M2742,1537l77,71M2647,1409l86,0M2684,1103l-74,11M2605,1165l-17,90M2899,1414l8,78M2849,1057l-95,51M2519,1305l-56,9M2745,1140l-49,36M2838,936l-27,97M2490,1475l-95,37M2554,1317l57,21M2697,1272l-7,84M2854,999l95,8M2460,966l102,15M2898,981l-101,32M2684,1027l-103,34M2146,1270l30,75M2895,1525l-34,91M2611,978l-3,77M2526,920l-57,87M2343,1326l53,84M2581,1651l31,75M2789,1141l72,61M2147,1330l-54,50M2864,1263l-32,86M2346,1409l-53,42M2948,1548l-83,65M2945,972l37,92M2608,976l-17,64M2358,1181l-80,38M2524,946l-70,70M2338,1155l93,43M2405,1572l-79,40M2431,1138l-49,37M2818,1522l-56,33M2607,1456l4,92M2263,1149l-25,78M2770,1151l-44,44M2772,1408l42,40M2492,1021l-95,11M2703,1351l40,92M2919,1608l47,90M2525,1008l-36,51M2602,1432l35,57M2529,990l72,79M2613,1529l-54,12M2108,1532l-47,63M2322,1059l64,54M2444,1510l-21,74M2295,1229l70,53M2316,1645l47,27M2483,1299l74,56M2767,1411l-16,82M2255,1422l-44,35M2557,1175l-103,31M2723,1378l-28,53M2539,1568l-66,71M2845,1400l-40,60M2237,1276l71,29M2493,1100l3,81M2463,1100l46,83M2465,1420l-64,59M2955,1276l-84,55M2844,1224l35,62M2577,1395l-35,91M2592,1100l82,68M2591,932l19,92M2430,1438l42,54M2937,1503l12,64M2673,1521l45,33M2306,1134l24,67" stroke="#e6e6e6" stroke-opacity="0.8" stroke-width="26" stroke-linecap="butt" fill="none"/><path d="M2398,1489l105,25M2358,1004l-31,67M2400,1645l-8,75M2622,1279l-62,71M2665,1587l91,38M2742,1204l-50,59M2421,1074l48,46M2274,1294l-59,30M2925,1452l64,76M2527,1575l40,57M2595,1541l-78,72M2897,1189l-62,50M2946,1374l42,92M2410,1422l-40,65M2263,1473l73,19M2785,1042l-51,44M2574,1456l87,15M2641,1379l-38,51M2727,1647l68,4M2535,1159l40,43M2955,1245l15,76M2321,1186l30,60M2926,1291l-74,17M2918,1535l-54,50M2592,1407l-27,75M2879,920l-70,28M2457,1229l40,60M2448,1387l79,19M2122,1599l-60,58M2303,1173l-76,15M2877,1015l33,81M2309,1515l38,80M2495,1375l-5,105M2899,1507l-19,91M2386,1283l-100,7M2693,989l-36,55M2825,1609l-68,62M2716,1317l45,35M2695,1145l-55,84M2880,1388l76,21M2791,1352l-94,30M2820,1563l-55,7M2550,1059l50,30M2766,1141l86,50M2808,1577l73,11M2645,1484l15,79M2862,1458l67,30M2456,1536l-26,67M2555,1252l-40,79M2173,1545l-49,35M2618,1355l31,61M2919,1642l-54,23M2855,1331l31,65M2634,1029l64,33M2431,1140l44,58M2290,1538l31,87M2006,1661l43,41M2908,1676l80,21M2548,1385l-27,93M1976,1608l59,36M2788,1331l38,49M2843,1431l53,48M2782,1307l15,71M2677,1485l58,63M2249,1578l101,6M2675,1313l-52,5M2657,1209l-41,39M2266,1526l-33,70M2589,1459l57,74M2762,1171l37,44M2917,963l68,30M2700,958l-45,31M2470,995l-39,38M2409,1025l-50,45M2916,1448l46,30M2791,1597l60,29M2918,1296l-73,48M2691,1221l66,76M2590,1641l-44,91M2837,1629l10,69M2746,1451l52,85M2034,1633l64,69M2775,1232l-84,48M2880,1042l-71,25M2483,1053l-82,18M2267,1318l-4,60M2806,1001l91,13M2593,1383l79,1M2160,1643l-3,72M2536,1156l-63,42M2214,1175l61,29M2619,1182l58,55M2347,1339l-59,2M2024,1627l68,55M2093,1590l-79,47M2012,1654l88,34M2090,1559l19,63M2801,989l-55,26M2491,1458l53,19M2148,1604l108,11M2201,1575l0,59M2901,1289l-45,87M2793,1298l-28,68M2394,1234l-63,32M2554,1482l-79,55M2510,1283l-48,72M2366,1596l-67,18M2481,1373l52,8M2829,1020l80,44M2639,1128l50,51M2810,1493l102,19M2625,1437l69,25M2337,1170l-35,65M2901,1444l49,88M2871,1474l-55,11M2721,897l-39,84M2316,1625l12,60M2760,1429l16,73" stroke="#e1e1e1" stroke-opacity="0.8" stroke-width="26" stroke-linecap="butt" fill="none"/><path d="M2763,962l47,65M2144,1508l-42,71M2262,1546l13,63M2320,1207l-3,67M2205,1292l13,55M2680,1483l48,70M2669,961l34,103M2891,1489l10,99M2243,1585l-50,83M2136,1653l87,62M2544,1411l-83,22M2364,1292l46,79M2636,1200l-28,79M2609,1626l47,43M2679,1195l-54,63M2359,1124l-79,72M2934,1677l-93,26M3015,1531l-96,8M2583,969l-91,51M2473,1302l90,4M2787,1172l-22,94M2882,910l-3,57M2926,999l35,49M2786,1316l48,87M2246,1679l-93,38M2641,1567l103,14M2413,1110l87,5M2524,1191l52,41M2332,1347l-97,48M2525,1655l-72,11M2761,1372l-51,19M2278,1419l-58,68M2529,1184l-67,4M2434,944l-9,57M2726,1306l-96,21M2355,1533l-16,59M2333,1294l34,40M2604,1114l53,61M2062,1548l75,35M2888,947l35,52M2658,943l39,68M2736,949l-52,94M2598,931l56,85M2731,1057l-82,20M2848,1159l-34,68M2206,1424l82,24M2296,1317l-84,70M2399,1680l-61,36M2828,1557l-37,94M2390,1213l9,64M2729,1636l-47,29M3009,1671l-90,18M2405,1537l-92,28M2800,1093l-77,75M2534,1064l89,14M2373,1351l-78,67M2706,1342l77,58M2703,1105l46,54M2415,1442l-26,102M2725,1579l40,58M2620,1254l63,34M2195,1225l52,86M2698,976l-57,88M2683,1373l-40,69M2939,1553l-84,67M2187,1293l-19,55M2658,1024l-33,90M2543,1442l-54,76M2713,1073l98,46M2546,1011l-29,44M2521,1093l103,3M2854,1063l-59,72M2603,1251l90,47M2541,1439l-1,60M2371,1395l-49,46M2937,1155l-12,71M2712,1419l-42,76M2022,1540l53,24M2383,986l-13,76M2227,1310l28,74M2756,945l79,17M2697,1578l7,91M2255,1631l78,76M2822,1401l82,24M2734,1263l53,32M2312,1275l-42,83M2454,1557l-91,36M2309,1466l63,6M2402,1551l18,95M2750,1156l4,86M2418,1457l60,19M2473,1224l-63,46M2828,1022l-48,42M2121,1280l6,100M2518,1026l97,0M2005,1622l-20,93M2152,1631l93,12M2764,1461l34,41M2801,1323l101,36M2852,1445l-42,40M2716,1587l-60,75M2333,1092l26,51M2032,1599l-33,83M2354,1286l57,31M2196,1521l67,15M2487,1348l59,5M2574,1037l60,10M2511,945l-17,59M2503,1053l-36,51M2423,1453l-81,54M2630,1461l-65,21M2319,1358l75,58M2880,1519l80,18M2788,1486l-64,25M2737,1102l80,20M2578,1609l95,3M2428,1296l61,60M2092,1644l20,93M2055,1659l60,54M2887,1523l-3,105M2469,955l3,104M2797,1374l-84,23M2505,1498l57,66M2810,1603l-35,64M2242,1267l90,40M2933,1144l73,31M2856,1326l-13,64M2761,1123l-85,62M2624,1343l-71,17M2685,1496l-72,29M2578,933l-36,82M2714,1040l-28,84M2262,1149l72,13M2688,1052l-70,55M2504,1090l43,69M2710,950l-91,44M2981,1257l-61,12M2077,1576l86,56M2217,1302l-54,17M2417,1229l-94,29M2562,1399l-101,2M2469,1474l46,35M2503,1601l-45,43M2854,1345l-10,75M2433,1042l85,43M2722,1609l-99,0" stroke="#ebebeb" stroke-opacity="0.6" stroke-width="26" stroke-linecap="butt" fill="none"/><path d="M2761,971l39,54M2685,1147l36,18M2555,1444l-52,52M2315,1622l-5,35M2146,1515l-38,63M2404,1653l-6,59M2604,1293l-32,37M2672,1596l72,30M2692,1667l31,56M2240,1525l21,31M2312,1212l-2,58M2213,1302l8,31M2691,1490l35,50M2656,1072l-53,14M2424,1085l34,33M2262,1304l-30,15M2929,1465l48,57M2582,1542l-63,58M2894,1197l-50,40M2897,1508l6,60M2535,1070l73,12M2227,1599l-29,48M2154,1659l58,42M2279,1484l39,10M2534,1422l-18,59M2628,1213l-18,53M2935,1479l40,16M2619,1629l33,31M2773,1045l-34,30M2414,1320l-17,28M2354,1133l-64,58M2912,1688l-47,13M2584,1453l68,12M2555,1056l35,6M2563,985l-48,27M2779,1187l-15,64M2630,1384l-25,33M2876,916l-2,46M2789,1329l35,65M2585,1605l-30,31M2221,1192l29,23M2674,1033l-51,26M2634,1052l-24,44M2429,1104l58,3M2313,1364l-53,26M2535,1167l31,34M2961,1248l13,67M2760,1377l-46,17M2330,1196l18,37M2907,1536l-42,40M2716,1316l-72,16M2582,1424l-14,38M2876,925l-61,24M2467,1236l28,42M2419,1356l30,40M2329,1201l-35,36M2112,1615l-34,33M2346,1297l21,24M2586,968l74,17M2639,1115l-32,12M1973,1610l49,30M2886,1028l21,52M2320,1527l25,51M2869,1219l33,27M2815,1283l11,35M2176,1532l40,3M2614,948l30,46M2280,1461l46,6M2890,1523l-12,57M2837,1168l-23,45M2819,1399l0,47M2290,1327l-66,55M2694,997l-29,45M2890,1300l39,26M2722,1328l28,22M2388,1677l-47,28M2200,1552l36,0M2574,1584l-54,54M2770,1351l-57,18M2558,1060l37,22M2393,1533l-73,22M2758,1282l30,35M2607,1079l1,57M2378,1237l-44,13M2793,1110l-53,52M1995,1593l37,40M2397,1496l-39,24M2791,1148l44,26M2820,1582l47,7M2354,1361l-46,40M2714,1354l56,42M2838,1531l28,78M2171,1551l-42,29M2714,1109l33,38M2912,1649l-37,16M2623,1264l48,26M2374,979l-21,44M2210,1240l31,51M2506,1060l-18,48M2587,957l28,38M2443,1146l30,40M2919,1559l-54,43M2295,1544l26,73M2697,1068l-40,13M2762,1550l43,40M2549,1407l-16,54M2678,1100l-64,10M2545,1022l-18,28M2894,1427l5,52M2796,1334l29,37M2547,1445l-0,47M2845,1441l40,36M2360,1397l-36,34M2514,1302l-48,8M2790,1318l10,49M2843,946l-23,81M2478,1485l-68,27M2263,1575l74,4M2032,1550l28,13M2666,1307l-35,4M2276,1644l43,42M2595,1479l33,43M2839,1398l51,15M2302,1284l-30,60M2437,1560l-60,23M2887,991l-77,24M2315,1459l52,5M2935,963l38,17M2694,969l-28,19M2157,1284l18,44M2413,1569l11,56M2747,1174l2,50M2424,1454l52,17M2461,996l-29,29M2459,1229l-39,29M2817,1026l-32,28M2604,988l-2,56M2918,1454l39,26M2117,1293l5,75M2528,1033l77,0M2804,1596l39,19M2171,1640l53,7M2914,1306l-59,38M2766,1471l22,27M2812,1323l83,30M2846,1445l-36,35M2581,1669l18,44M2801,1143l57,49M2575,1661l-23,47M2134,1335l-35,32M2843,1637l7,50M2705,1592l-46,58M2019,1611l-21,53M2338,1411l-42,33M2047,1636l49,54M2262,1331l-2,35M2818,1006l67,9M2943,980l32,79M2498,1346l39,3M2347,1194l-53,25M2585,1045l35,6M2517,957l-52,52M2165,1657l-2,45M2502,955l-11,37M2504,1064l-27,37M2418,1462l-66,44M2398,1572l-69,35M2226,1173l44,21M2341,1335l-47,2M2332,1373l43,33M2029,1640l49,39M2255,1158l-18,57M2752,1114l46,11M2920,1622l35,67M2603,1447l21,34M2547,1000l46,50M2089,1666l11,51M2057,1671l46,41M2330,1072l42,35M2879,1538l-2,75M2793,988l-43,20M2502,1458l33,12M2777,1374l-46,13M2522,1509l31,36M2308,1234l48,37M2160,1601l83,9M2262,1269l55,25M2196,1586l0,37M2739,1130l-50,36M2503,1309l39,30M2759,1416l-14,69M2246,1422l-32,26M2606,1340l-38,9M2542,1186l-69,21M2577,952l-22,50M2832,1408l-25,37M2253,1286l38,16M2702,1060l-14,42M2470,1102l40,73M2680,1052l-61,48M2448,1426l-40,37M2953,1285l-74,48M2828,1489l67,12M2841,1234l28,48M2700,947l-77,37M2564,1411l-20,54M2968,1265l-33,7M2434,1450l28,35M2087,1576l72,47M2862,1481l-35,7M2211,1296l-47,14M2551,1392l-80,2M2472,1484l33,25M2451,1055l46,23" stroke="#ffffff" stroke-opacity="0.8" stroke-width="4.5" stroke-linecap="round" fill="none"/>
</g>
<g filter="url(#b14)">
<path d="M2969,1670l-6,144M2150,1654l112,40M2630,2013l-27,93M2387,1770l53,83M2744,1881l-27,72M2578,1676l-138,45M2907,1637l25,119M2645,1946l101,35M2454,1919l122,76M1960,1685l118,56M2577,1856l50,83M2522,1918l100,43M2923,1636l99,85M2896,2037l42,100M2800,1928l-46,68M3027,1668l-97,30M2997,1735l-7,103M3002,2052l-97,77M2234,1654l-129,20M2885,1793l-19,111" stroke="#dcdcdc" stroke-opacity="0.95" stroke-width="55" stroke-linecap="round" fill="none"/><path d="M2696,1787l-31,97M2875,1822l-81,31M3014,1975l-101,90M2295,1647l37,117M2500,1682l-17,72M2166,1695l-83,106M2249,1649l22,70M2618,1741l-85,33M2789,1842l102,21M2763,1872l-53,121M2516,1815l19,121M2815,1688l105,19M2398,1763l127,31M2518,1692l86,119M2539,1676l30,115M2689,1662l-101,46M2755,1655l-75,6M2754,1907l-71,48M2442,1887l100,106M2674,1983l117,5M2285,1852l124,52M2298,1662l3,124M2618,1894l21,80M2418,1826l-95,83M2311,1736l96,44" stroke="#e9e9e9" stroke-opacity="0.9" stroke-width="55" stroke-linecap="round" fill="none"/><path d="M2802,1714l-35,68M2611,1922l51,122M2975,1684l-79,101M2795,1623l-121,79M2578,1812l95,21M2932,1703l-57,113M2247,1757l12,102M2796,1708l-112,55M3062,1785l-129,74M2682,1624l110,57M2570,1611l93,110M1978,1704l123,40M2194,1665l-90,73M2739,1646l-61,105M2604,1809l-53,104M3002,1866l-102,59M2353,1674l-89,47M2222,1665l-60,103M2838,1923l-111,49M2662,1911l-92,5M2661,1976l-130,11" stroke="#dedede" stroke-opacity="0.9" stroke-width="55" stroke-linecap="round" fill="none"/><path d="M2561,1687l10,135M2802,1744l70,17M2857,1642l100,42M2569,1682l-13,101M2247,1652l-24,88M2805,1853l25,106M2378,1816l6,103M2557,1942l-61,87M2061,1658l10,147M2498,1665l-143,16M2207,1762l125,70M2033,1637l115,72M2898,1813l89,98M2582,1757l140,22M2291,1722l136,59M2972,1702l-109,66M2705,1636l123,75M2787,1734l-101,47M2477,1830l19,103M2027,1660l-32,102M2364,1726l58,94M2453,1787l-14,70M2584,1904l4,88M2740,2052l-106,20" stroke="#efefef" stroke-opacity="0.8" stroke-width="55" stroke-linecap="round" fill="none"/>
</g>
<g filter="url(#b14)" fill="#fff"><ellipse cx="2848" cy="1968" rx="40" ry="38"/><path d="M3010,1860L2985,1900L2975,1990L3010,2000Z"/><path d="M2940,2030L3010,2010L3010,2110L2700,2110L2740,2075L2900,2070Z"/></g>
<g filter="url(#b6)" stroke-linecap="round" fill="none">
<path d="M1395,1590l52,-28" stroke="#dcdcdc" stroke-width="46"/>
<path d="M1745,1620l62,-8" stroke="#dcdcdc" stroke-width="44"/>
<path d="M1795,1525l50,-8" stroke="#dcdee0" stroke-width="34"/>
<path d="M2385,1960l8,60" stroke="#dcdcdc" stroke-width="40"/>
<path d="M1325,730l18,30" stroke="#c3d6e6" stroke-width="24"/>
</g>
<g filter="url(#b9)" stroke-linecap="round" fill="none">
<path d="M135,1620l120,-25" stroke="#fbdcc6" stroke-width="60"/>
<path d="M480,1420l-12,-30" stroke="#f9d6c0" stroke-width="40"/>
</g>
</g>
</svg>
<div id="hdr"></div>
<span class="t" style="left:300.0px;top:63.7px;font-size:96px;line-height:96px;font-weight:bold;color:#fff;transform:scaleX(0.9314);transform-origin:left top;">European substrate market price index (Q3 2024 Update)</span>
<div class="b" style="left:422px;top:282px;width:295px;height:370px;border-radius:26px;background:rgba(255,255,255,.78);filter:blur(3px)"></div>
<div class="b" style="left:454px;top:311.0px;width:42px;height:42px;background:#056532"></div>
<span class="t" style="left:530.0px;top:307.4px;font-size:36.5px;line-height:36.5px;font-weight:normal;color:#000;transform:scaleX(0.9925);transform-origin:left top;">Q4 2020</span>
<div class="b" style="left:454px;top:378.4px;width:42px;height:42px;background:#95c11f"></div>
<span class="t" style="left:530.0px;top:378.2px;font-size:36.5px;line-height:36.5px;font-weight:normal;color:#000;transform:scaleX(0.9925);transform-origin:left top;">Q4 2023</span>
<div class="b" style="left:454px;top:445.8px;width:42px;height:42px;background:#0095db"></div>
<span class="t" style="left:530.0px;top:448.9px;font-size:36.5px;line-height:36.5px;font-weight:normal;color:#000;transform:scaleX(0.9925);transform-origin:left top;">Q1 2024</span>
<div class="b" style="left:454px;top:513.2px;width:42px;height:42px;background:#f39210"></div>
<span class="t" style="left:530.0px;top:519.7px;font-size:36.5px;line-height:36.5px;font-weight:normal;color:#000;transform:scaleX(0.9925);transform-origin:left top;">Q2 2024</span>
<div class="b" style="left:454px;top:580.6px;width:42px;height:42px;background:#6b6a69"></div>
<span class="t" style="left:530.0px;top:590.4px;font-size:36.5px;line-height:36.5px;font-weight:normal;color:#000;transform:scaleX(0.9925);transform-origin:left top;">Q3 2024</span>
<div class="b" style="left:316px;top:279px;width:3px;height:1669px;background:#000"></div>
<div class="b" style="left:316px;top:1945px;width:2501px;height:3px;background:#000"></div>
<div class="b" style="left:305px;top:1818.7px;width:25px;height:3px;background:#000"></div>
<span class="t" style="right:2709.5px;top:1799.8px;font-size:37.5px;line-height:37.5px;font-weight:normal;color:#000;transform:scaleX(.965);transform-origin:right top;">90</span>
<div class="b" style="left:305px;top:1693.6px;width:25px;height:3px;background:#000"></div>
<span class="t" style="right:2709.5px;top:1674.7px;font-size:37.5px;line-height:37.5px;font-weight:normal;color:#000;transform:scaleX(.965);transform-origin:right top;">100</span>
<div class="b" style="left:305px;top:1568.5px;width:25px;height:3px;background:#000"></div>
<span class="t" style="right:2709.5px;top:1549.6px;font-size:37.5px;line-height:37.5px;font-weight:normal;color:#000;transform:scaleX(.965);transform-origin:right top;">110</span>
<div class="b" style="left:305px;top:1443.4px;width:25px;height:3px;background:#000"></div>
<span class="t" style="right:2709.5px;top:1424.5px;font-size:37.5px;line-height:37.5px;font-weight:normal;color:#000;transform:scaleX(.965);transform-origin:right top;">120</span>
<div class="b" style="left:305px;top:1318.3px;width:25px;height:3px;background:#000"></div>
<span class="t" style="right:2709.5px;top:1299.4px;font-size:37.5px;line-height:37.5px;font-weight:normal;color:#000;transform:scaleX(.965);transform-origin:right top;">130</span>
<div class="b" style="left:305px;top:1193.2px;width:25px;height:3px;background:#000"></div>
<span class="t" style="right:2709.5px;top:1174.3px;font-size:37.5px;line-height:37.5px;font-weight:normal;color:#000;transform:scaleX(.965);transform-origin:right top;">140</span>
<div class="b" style="left:305px;top:1068.1px;width:25px;height:3px;background:#000"></div>
<span class="t" style="right:2709.5px;top:1049.2px;font-size:37.5px;line-height:37.5px;font-weight:normal;color:#000;transform:scaleX(.965);transform-origin:right top;">150</span>
<div class="b" style="left:305px;top:943.0px;width:25px;height:3px;background:#000"></div>
<span class="t" style="right:2709.5px;top:924.1px;font-size:37.5px;line-height:37.5px;font-weight:normal;color:#000;transform:scaleX(.965);transform-origin:right top;">160</span>
<div class="b" style="left:305px;top:817.9px;width:25px;height:3px;background:#000"></div>
<span class="t" style="right:2709.5px;top:799.0px;font-size:37.5px;line-height:37.5px;font-weight:normal;color:#000;transform:scaleX(.965);transform-origin:right top;">170</span>
<div class="b" style="left:305px;top:692.8px;width:25px;height:3px;background:#000"></div>
<span class="t" style="right:2709.5px;top:673.9px;font-size:37.5px;line-height:37.5px;font-weight:normal;color:#000;transform:scaleX(.965);transform-origin:right top;">180</span>
<div class="b" style="left:305px;top:567.7px;width:25px;height:3px;background:#000"></div>
<span class="t" style="right:2709.5px;top:548.8px;font-size:37.5px;line-height:37.5px;font-weight:normal;color:#000;transform:scaleX(.965);transform-origin:right top;">190</span>
<div class="b" style="left:305px;top:442.6px;width:25px;height:3px;background:#000"></div>
<span class="t" style="right:2709.5px;top:423.7px;font-size:37.5px;line-height:37.5px;font-weight:normal;color:#000;transform:scaleX(.965);transform-origin:right top;">200</span>
<div class="b" style="left:305px;top:317.5px;width:25px;height:3px;background:#000"></div>
<span class="t" style="right:2709.5px;top:298.6px;font-size:37.5px;line-height:37.5px;font-weight:normal;color:#000;transform:scaleX(.965);transform-origin:right top;">210</span>
<div class="b" style="left:422.0px;top:1695.1px;width:50.8px;height:249.9px;background:#056532"></div>
<div class="b" style="left:472.0px;top:1319.8px;width:50.8px;height:625.2px;background:#95c11f"></div>
<div class="b" style="left:522.0px;top:1319.8px;width:49.2px;height:625.2px;background:#0095db"></div>
<div class="b" style="left:570.4px;top:1194.7px;width:50.9px;height:750.3px;background:#f39210"></div>
<div class="b" style="left:620.5px;top:1069.6px;width:50.3px;height:875.4px;background:#6b6a69"></div>
<div class="b" style="left:772.4px;top:1695.1px;width:48.9px;height:249.9px;background:#056532"></div>
<div class="b" style="left:820.5px;top:932.0px;width:54.4px;height:1013.0px;background:#95c11f"></div>
<div class="b" style="left:872.4px;top:982.0px;width:49.4px;height:963.0px;background:#0095db"></div>
<div class="b" style="left:921.0px;top:894.5px;width:50.8px;height:1050.5px;background:#f39210"></div>
<div class="b" style="left:971.0px;top:932.0px;width:50.0px;height:1013.0px;background:#6b6a69"></div>
<div class="b" style="left:1123.0px;top:1695.1px;width:50.7px;height:249.9px;background:#056532"></div>
<div class="b" style="left:1172.9px;top:1369.8px;width:50.8px;height:575.2px;background:#95c11f"></div>
<div class="b" style="left:1222.9px;top:1332.3px;width:48.9px;height:612.7px;background:#0095db"></div>
<div class="b" style="left:1271.0px;top:1282.3px;width:51.4px;height:662.7px;background:#f39210"></div>
<div class="b" style="left:1321.6px;top:1307.3px;width:50.2px;height:637.7px;background:#6b6a69"></div>
<div class="b" style="left:1473.0px;top:1695.1px;width:51.1px;height:249.9px;background:#056532"></div>
<div class="b" style="left:1523.3px;top:1532.5px;width:50.9px;height:412.5px;background:#95c11f"></div>
<div class="b" style="left:1573.4px;top:1357.3px;width:49.0px;height:587.7px;background:#0095db"></div>
<div class="b" style="left:1621.6px;top:1357.3px;width:51.2px;height:587.7px;background:#f39210"></div>
<div class="b" style="left:1672.0px;top:1407.4px;width:49.8px;height:537.6px;background:#6b6a69"></div>
<div class="b" style="left:1823.9px;top:1695.1px;width:50.6px;height:249.9px;background:#056532"></div>
<div class="b" style="left:1873.7px;top:1244.7px;width:51.0px;height:700.3px;background:#95c11f"></div>
<div class="b" style="left:1923.9px;top:1169.7px;width:48.9px;height:775.3px;background:#0095db"></div>
<div class="b" style="left:1972.0px;top:1132.1px;width:51.1px;height:812.9px;background:#f39210"></div>
<div class="b" style="left:2022.3px;top:1094.6px;width:49.7px;height:850.4px;background:#6b6a69"></div>
<div class="b" style="left:2174.2px;top:1695.1px;width:50.8px;height:249.9px;background:#056532"></div>
<div class="b" style="left:2224.2px;top:1269.8px;width:47.7px;height:675.2px;background:#95c11f"></div>
<div class="b" style="left:2271.1px;top:1232.2px;width:50.5px;height:712.8px;background:#0095db"></div>
<div class="b" style="left:2320.8px;top:1144.7px;width:51.0px;height:800.3px;background:#f39210"></div>
<div class="b" style="left:2371.0px;top:1232.2px;width:50.0px;height:712.8px;background:#6b6a69"></div>
<div class="b" style="left:2524.9px;top:1695.1px;width:50.7px;height:249.9px;background:#056532"></div>
<div class="b" style="left:2574.8px;top:1169.7px;width:47.4px;height:775.3px;background:#95c11f"></div>
<div class="b" style="left:2621.4px;top:1107.1px;width:50.8px;height:837.9px;background:#0095db"></div>
<div class="b" style="left:2671.4px;top:994.5px;width:51.0px;height:950.5px;background:#f39210"></div>
<div class="b" style="left:2721.6px;top:1007.0px;width:50.2px;height:938.0px;background:#6b6a69"></div>
<span class="t" style="left:0;top:0;font-size:33px;line-height:33px;transform-origin:left top;transform:translate(147px,1384.5px) rotate(-90deg) scaleX(.938)">Price Index (Q4 2020=100)</span>
<!--XL-->
<span class="t" style="left:366.9px;top:1966.1px;font-size:38px;line-height:38px;font-weight:normal;color:#000;transform:scaleX(0.9966);transform-origin:left top;">60 gsm one-sided</span>
<span class="t" style="left:409.3px;top:2012.8px;font-size:38px;line-height:38px;font-weight:normal;color:#000;transform:scaleX(1.0234);transform-origin:left top;">coated paper</span>
<span class="t" style="left:791.5px;top:1966.1px;font-size:38px;line-height:38px;font-weight:normal;color:#000;transform:scaleX(1.0441);transform-origin:left top;">7-micron</span>
<span class="t" style="left:816.9px;top:2012.8px;font-size:38px;line-height:38px;font-weight:normal;color:#000;transform:scaleX(1.0632);transform-origin:left top;">Alufoil</span>
<span class="t" style="left:1132.4px;top:1966.1px;font-size:38px;line-height:38px;font-weight:normal;color:#000;transform:scaleX(1.0290);transform-origin:left top;">15-micron</span>
<span class="t" style="left:1139.3px;top:2012.8px;font-size:38px;line-height:38px;font-weight:normal;color:#000;transform:scaleX(0.9859);transform-origin:left top;">BOPA film</span>
<span class="t" style="left:1481.4px;top:1966.1px;font-size:38px;line-height:38px;font-weight:normal;color:#000;transform:scaleX(1.0372);transform-origin:left top;">20-micron</span>
<span class="t" style="left:1488.4px;top:2012.8px;font-size:38px;line-height:38px;font-weight:normal;color:#000;transform:scaleX(0.9781);transform-origin:left top;">BOPP film</span>
<span class="t" style="left:1832.6px;top:1966.1px;font-size:38px;line-height:38px;font-weight:normal;color:#000;transform:scaleX(1.0349);transform-origin:left top;">12-micron</span>
<span class="t" style="left:1853.4px;top:2012.8px;font-size:38px;line-height:38px;font-weight:normal;color:#000;transform:scaleX(0.9893);transform-origin:left top;">PET film</span>
<span class="t" style="left:2226.8px;top:1966.1px;font-size:38px;line-height:38px;font-weight:normal;color:#000;transform:scaleX(0.9106);transform-origin:left top;">HDPE</span>
<span class="t" style="left:2581.2px;top:1966.1px;font-size:38px;line-height:38px;font-weight:normal;color:#000;transform:scaleX(0.8868);transform-origin:left top;">LDPE</span>
<div id="ftr"></div>
<span class="t" style="left:317.6px;top:2122.8px;font-size:28px;line-height:28px;font-weight:normal;color:#000;transform:scaleX(0.9440);transform-origin:left top;">Sources:</span>
<span class="t" style="left:484.0px;top:2122.8px;font-size:28px;line-height:28px;font-weight:normal;color:#000;transform:scaleX(0.9623);transform-origin:left top;">Wood Mackenzie Chemicals (paper, alufoil, BOPA film, BOPP film, PET film)</span>
<span class="t" style="left:484.0px;top:2156.6px;font-size:28px;line-height:28px;font-weight:normal;color:#000;transform:scaleX(0.9911);transform-origin:left top;">Quarterly data provided by Wood Mackenzie follows the pattern of ending one month before the calendar quarter</span>
<span class="t" style="left:484.0px;top:2190.4px;font-size:28px;line-height:28px;font-weight:normal;color:#000;transform:scaleX(0.9543);transform-origin:left top;">Chemical Market Analysis by OPIS, a Dow Jones Company</span>
<span class="t" style="left:2439.0px;top:2117.9px;font-size:75.5px;line-height:75.5px;font-weight:bold;color:#f39208;transform:scaleX(0.9536);transform-origin:left top;-webkit-text-stroke:2.4px #f39208;">FLEXIBLE</span>
<span class="t" style="left:2440.5px;top:2195.0px;font-size:32.6px;line-height:32.6px;font-weight:bold;color:#6b6765;transform:scaleX(1.0037);transform-origin:left top;-webkit-text-stroke:.7px #6b6765;">PACKAGING EUROPE</span>
<svg style="position:absolute;left:2300px;top:2110px" width="140" height="130" viewBox="0 0 1787 1659">
<defs><linearGradient id="lgG" x1="268" y1="0" x2="1520" y2="0" gradientUnits="userSpaceOnUse"><stop offset="0" stop-color="#14903a"/><stop offset=".55" stop-color="#5fae32"/><stop offset="1" stop-color="#9aca28"/></linearGradient><linearGradient id="lgO" x1="250" y1="0" x2="1505" y2="0" gradientUnits="userSpaceOnUse"><stop offset="0" stop-color="#f6ab2c"/><stop offset=".5" stop-color="#f19f1e"/><stop offset="1" stop-color="#df8a12"/></linearGradient><linearGradient id="lgB" x1="250" y1="0" x2="1505" y2="0" gradientUnits="userSpaceOnUse"><stop offset="0" stop-color="#7fcbe6"/><stop offset=".5" stop-color="#3f96cf"/><stop offset="1" stop-color="#1569bb"/></linearGradient><linearGradient id="lgD" x1="620" y1="0" x2="1520" y2="0" gradientUnits="userSpaceOnUse"><stop offset="0" stop-color="#14903a"/><stop offset=".42" stop-color="#97c922"/><stop offset=".8" stop-color="#2b9636"/><stop offset="1" stop-color="#0e8a38"/></linearGradient></defs>
<path fill="url(#lgO)" d="M1505,230 C1505,330 1430,400 1250,470 L600,700 C380,790 250,860 250,940 L250,1130 C250,1060 330,1010 600,905 L1250,670 C1440,600 1505,560 1505,500Z"/>
<path fill="url(#lgD)" d="M1520,950 L1520,1180 C1520,1250 1440,1300 1190,1425 L620,1425 L1250,1150 C1430,1070 1520,1020 1520,950Z"/>
<path fill="url(#lgG)" d="M268,230 C268,330 340,390 600,490 L1250,740 C1440,815 1520,870 1520,960 C1520,1000 1490,1030 1450,1050 L1250,950 L600,690 C340,590 268,540 268,470Z"/>
<path fill="url(#lgB)" d="M1505,515 C1505,590 1440,630 1250,700 L600,945 C330,1050 250,1100 250,1175 L250,1440 C250,1350 330,1300 600,1185 L1250,925 C1440,850 1505,800 1505,745Z"/>
</svg>
</div></body></html>
